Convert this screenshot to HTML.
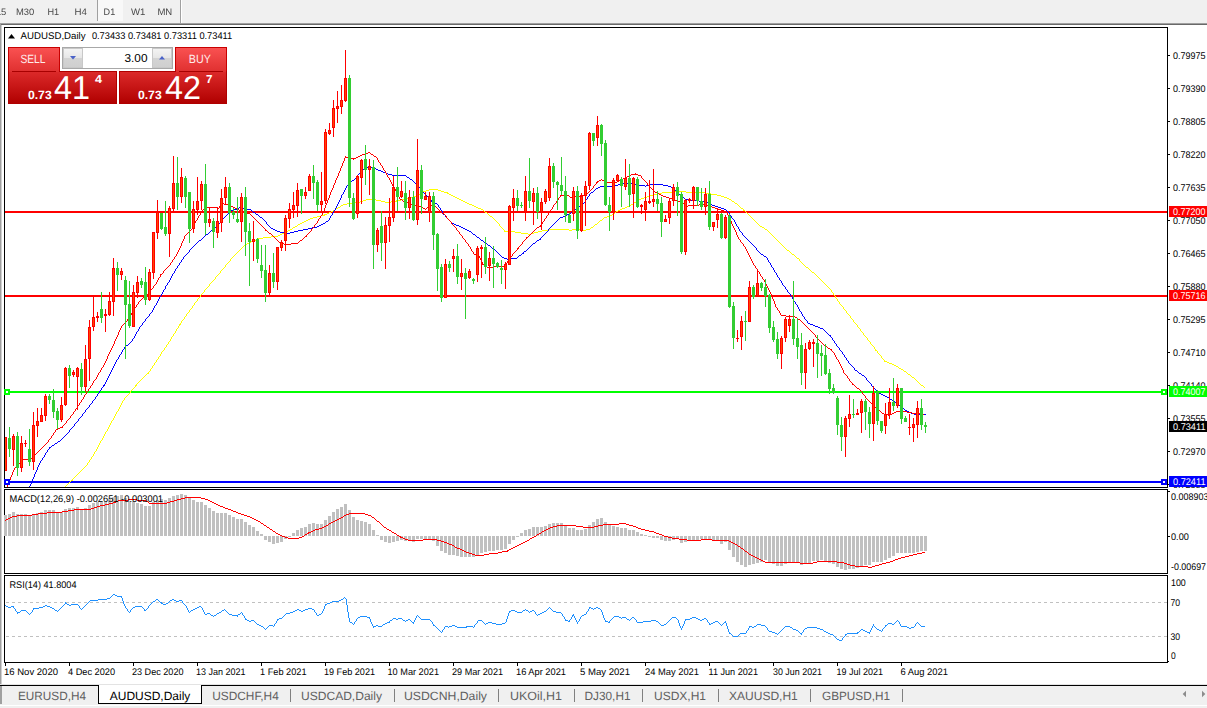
<!DOCTYPE html>
<html><head><meta charset="utf-8"><title>AUDUSD,Daily</title>
<style>
html,body{margin:0;padding:0;background:#fff;}
body{width:1207px;height:708px;overflow:hidden;position:relative;}
svg{position:absolute;left:0;top:0;display:block;}
text{font-family:"Liberation Sans",Arial,sans-serif;}
</style></head><body>
<svg width="1207" height="708" viewBox="0 0 1207 708" shape-rendering="crispEdges">
<defs><linearGradient id="gt" x1="0" y1="0" x2="0" y2="1"><stop offset="0" stop-color="#fa5252"/><stop offset="1" stop-color="#e03030"/></linearGradient><linearGradient id="gb" x1="0" y1="0" x2="0" y2="1"><stop offset="0" stop-color="#dc2a2a"/><stop offset="1" stop-color="#b00000"/></linearGradient><linearGradient id="gg" x1="0" y1="0" x2="0" y2="1"><stop offset="0" stop-color="#f4f4f4"/><stop offset="0.5" stop-color="#e6e6e6"/><stop offset="0.5" stop-color="#d4d4d4"/><stop offset="1" stop-color="#cfcfcf"/></linearGradient><filter id="gs" x="-10%" y="-50%" width="120%" height="200%"><feColorMatrix type="saturate" values="0"/></filter><clipPath id="cmain"><rect x="5" y="28" width="1162" height="459"/></clipPath></defs>
<rect x="0" y="0" width="1207" height="23" fill="#f0f0f0"/>
<rect x="0" y="23" width="1207" height="1" fill="#a0a0a0"/>
<rect x="0" y="24" width="1207" height="1" fill="#696969"/>
<rect x="0" y="23" width="1" height="661" fill="#a0a0a0"/>
<rect x="1" y="25" width="1" height="659" fill="#d0d0d0"/>
<rect x="97" y="0" width="1" height="21" fill="#a0a0a0"/>
<rect x="98" y="0" width="25" height="21" fill="#f8f8f8"/>
<rect x="180" y="0" width="1" height="23" fill="#a0a0a0"/>
<rect x="181" y="0" width="1" height="23" fill="#ffffff"/>
<rect x="5" y="211" width="1162" height="2" fill="#ff0000"/>
<rect x="5" y="295" width="1162" height="2" fill="#ff0000"/>
<rect x="5" y="391" width="1162" height="2" fill="#00ff00"/>
<rect x="5" y="481" width="1162" height="2" fill="#0000ff"/>
<g clip-path="url(#cmain)">
<path d="M65 486h1v2h-1zM66 485h1v1h-1zM67 484h1v1h-1zM68 483h1v1h-1zM69 482h1v1h-1zM70 481h1v1h-1zM71 480h1v1h-1zM72 479h1v2h-1zM73 478h1v1h-1zM74 477h1v1h-1zM75 476h1v1h-1zM76 475h1v1h-1zM77 474h1v1h-1zM78 473h1v1h-1zM79 472h1v1h-1zM80 471h1v1h-1zM81 470h1v1h-1zM82 469h1v1h-1zM83 468h1v1h-1zM84 467h1v1h-1zM85 466h1v1h-1zM86 465h1v1h-1zM87 463h1v2h-1zM88 462h1v1h-1zM89 460h1v2h-1zM90 459h1v1h-1zM91 457h1v2h-1zM92 456h1v1h-1zM93 454h1v2h-1zM94 452h1v2h-1zM95 451h1v1h-1zM96 449h1v2h-1zM97 447h1v2h-1zM98 445h1v2h-1zM99 443h1v2h-1zM100 441h1v2h-1zM101 440h1v1h-1zM102 438h1v2h-1zM103 436h1v2h-1zM104 434h1v2h-1zM105 432h1v2h-1zM106 431h1v1h-1zM107 429h1v2h-1zM108 427h1v2h-1zM109 425h1v2h-1zM110 423h1v2h-1zM111 421h1v2h-1zM112 420h1v1h-1zM113 418h1v2h-1zM114 416h1v2h-1zM115 414h1v2h-1zM116 412h1v2h-1zM117 411h1v1h-1zM118 409h1v2h-1zM119 407h1v2h-1zM120 405h1v2h-1zM121 403h1v2h-1zM122 401h1v2h-1zM123 400h1v1h-1zM124 398h1v2h-1zM125 397h1v1h-1zM126 396h1v1h-1zM127 395h1v1h-1zM128 394h1v1h-1zM129 393h1v1h-1zM130 391h1v2h-1zM131 390h1v1h-1zM132 389h1v1h-1zM133 388h1v1h-1zM134 387h1v1h-1zM135 385h1v2h-1zM136 384h1v2h-1zM137 383h1v1h-1zM138 382h1v1h-1zM139 381h1v1h-1zM140 380h1v1h-1zM141 379h1v1h-1zM142 378h1v1h-1zM143 377h1v1h-1zM144 376h1v1h-1zM145 375h1v1h-1zM146 374h1v1h-1zM147 373h1v1h-1zM148 372h1v2h-1zM149 371h1v1h-1zM150 369h1v2h-1zM151 368h1v1h-1zM152 366h1v2h-1zM153 365h1v1h-1zM154 363h1v2h-1zM155 362h1v1h-1zM156 360h1v2h-1zM157 359h1v1h-1zM158 357h1v2h-1zM159 356h1v1h-1zM160 354h1v2h-1zM161 352h1v2h-1zM162 351h1v1h-1zM163 350h1v1h-1zM164 348h1v2h-1zM165 347h1v1h-1zM166 345h1v2h-1zM167 344h1v1h-1zM168 342h1v2h-1zM169 341h1v1h-1zM170 339h1v2h-1zM171 337h1v2h-1zM172 336h1v1h-1zM173 334h1v2h-1zM174 333h1v1h-1zM175 331h1v2h-1zM176 329h1v2h-1zM177 328h1v1h-1zM178 326h1v2h-1zM179 324h1v2h-1zM180 323h1v2h-1zM181 321h1v2h-1zM182 320h1v1h-1zM183 319h1v1h-1zM184 317h1v2h-1zM185 316h1v1h-1zM186 314h1v2h-1zM187 313h1v1h-1zM188 312h1v1h-1zM189 310h1v2h-1zM190 309h1v1h-1zM191 308h1v1h-1zM192 306h1v2h-1zM193 305h1v1h-1zM194 303h1v2h-1zM195 302h1v1h-1zM196 301h1v1h-1zM197 299h1v2h-1zM198 298h1v1h-1zM199 297h1v1h-1zM200 295h1v2h-1zM201 294h1v1h-1zM202 293h1v1h-1zM203 292h1v1h-1zM204 290h1v2h-1zM205 289h1v1h-1zM206 288h1v1h-1zM207 287h1v1h-1zM208 286h1v1h-1zM209 284h1v2h-1zM210 283h1v1h-1zM211 282h1v1h-1zM212 281h1v1h-1zM213 280h1v1h-1zM214 279h1v1h-1zM215 277h1v2h-1zM216 276h1v1h-1zM217 275h1v1h-1zM218 274h1v1h-1zM219 273h1v1h-1zM220 271h1v2h-1zM221 270h1v1h-1zM222 269h1v1h-1zM223 268h1v1h-1zM224 267h1v1h-1zM225 265h1v2h-1zM226 264h1v1h-1zM227 263h1v1h-1zM228 262h1v1h-1zM229 261h1v1h-1zM230 259h1v2h-1zM231 258h1v1h-1zM232 257h1v1h-1zM233 256h1v1h-1zM234 255h1v1h-1zM235 254h1v1h-1zM236 253h1v1h-1zM237 252h1v1h-1zM238 251h1v1h-1zM239 250h1v1h-1zM240 249h1v1h-1zM241 248h1v1h-1zM242 247h1v1h-1zM243 246h1v1h-1zM244 245h2v1h-2zM246 244h1v1h-1zM247 243h2v1h-2zM249 242h2v1h-2zM251 241h2v1h-2zM253 240h3v1h-3zM256 239h2v1h-2zM258 238h5v1h-5zM263 237h8v1h-8zM271 236h7v1h-7zM278 235h2v1h-2zM280 234h2v1h-2zM282 233h2v1h-2zM284 232h2v1h-2zM286 231h2v1h-2zM288 230h2v1h-2zM290 229h2v1h-2zM292 228h1v1h-1zM293 227h2v1h-2zM295 226h2v1h-2zM297 225h1v1h-1zM298 224h2v1h-2zM300 223h2v1h-2zM302 222h2v1h-2zM304 221h2v1h-2zM306 220h2v1h-2zM308 219h2v1h-2zM310 218h3v1h-3zM313 217h4v1h-4zM317 216h4v1h-4zM321 215h3v1h-3zM324 214h1v2h-1zM325 214h2v1h-2zM327 213h2v1h-2zM329 212h2v1h-2zM331 211h2v1h-2zM333 210h2v1h-2zM335 209h1v1h-1zM336 208h2v1h-2zM338 207h2v1h-2zM340 206h1v1h-1zM341 205h2v1h-2zM343 204h4v1h-4zM347 203h8v1h-8zM355 202h5v1h-5zM360 201h3v1h-3zM363 200h3v1h-3zM366 199h10v1h-10zM376 200h5v1h-5zM381 201h4v1h-4zM385 202h6v1h-6zM391 201h5v1h-5zM396 200h1v2h-1zM397 200h4v1h-4zM401 199h5v1h-5zM406 198h4v1h-4zM410 197h3v1h-3zM413 196h3v1h-3zM416 195h2v1h-2zM418 194h1v2h-1zM419 194h1v1h-1zM420 193h2v1h-2zM422 192h1v1h-1zM423 191h1v2h-1zM424 191h2v1h-2zM426 190h3v1h-3zM429 189h9v1h-9zM438 190h3v1h-3zM441 191h3v1h-3zM444 192h3v1h-3zM447 192h1v2h-1zM448 193h1v1h-1zM449 194h2v1h-2zM451 195h2v1h-2zM453 196h2v1h-2zM455 197h2v1h-2zM457 198h2v1h-2zM459 199h2v1h-2zM461 200h2v1h-2zM463 201h2v1h-2zM465 202h2v1h-2zM467 203h2v1h-2zM469 204h3v1h-3zM472 205h2v1h-2zM474 206h2v1h-2zM476 207h2v1h-2zM478 208h3v1h-3zM481 209h2v1h-2zM483 210h1v1h-1zM484 211h1v1h-1zM485 212h2v1h-2zM487 213h1v1h-1zM488 214h1v1h-1zM489 215h1v1h-1zM490 216h2v1h-2zM492 217h1v1h-1zM493 218h1v1h-1zM494 219h1v1h-1zM495 220h1v1h-1zM496 221h1v1h-1zM497 222h1v1h-1zM498 223h1v1h-1zM499 224h1v2h-1zM500 226h1v1h-1zM501 227h1v1h-1zM502 228h1v1h-1zM503 229h1v1h-1zM504 230h1v2h-1zM505 231h10v1h-10zM515 232h6v1h-6zM521 233h7v1h-7zM528 234h3v1h-3zM531 233h3v1h-3zM534 232h4v1h-4zM538 231h4v1h-4zM542 230h6v1h-6zM548 229h21v1h-21zM569 230h3v1h-3zM572 229h8v1h-8zM580 230h6v1h-6zM586 229h4v1h-4zM590 228h1v1h-1zM591 227h2v1h-2zM593 226h1v1h-1zM594 225h1v1h-1zM595 224h2v1h-2zM597 223h1v1h-1zM598 222h1v1h-1zM599 221h1v1h-1zM600 220h2v1h-2zM602 219h1v1h-1zM603 218h1v1h-1zM604 217h3v1h-3zM607 216h3v1h-3zM610 215h2v1h-2zM612 214h1v1h-1zM613 213h2v1h-2zM615 212h1v1h-1zM616 211h2v1h-2zM618 210h2v1h-2zM620 209h2v1h-2zM622 208h3v1h-3zM625 207h2v1h-2zM627 206h2v1h-2zM629 205h2v1h-2zM631 204h2v1h-2zM633 203h1v1h-1zM634 202h2v1h-2zM636 201h2v1h-2zM638 200h1v1h-1zM639 199h2v1h-2zM641 198h3v1h-3zM644 197h3v1h-3zM647 196h3v1h-3zM650 195h4v1h-4zM654 194h4v1h-4zM658 193h4v1h-4zM662 192h10v1h-10zM672 191h14v1h-14zM686 192h19v1h-19zM705 193h6v1h-6zM711 194h6v1h-6zM717 195h4v1h-4zM721 196h3v1h-3zM724 197h3v1h-3zM727 198h2v1h-2zM729 199h2v1h-2zM731 200h1v1h-1zM732 201h2v1h-2zM734 202h1v1h-1zM735 203h2v1h-2zM737 204h1v1h-1zM738 205h1v1h-1zM739 206h1v1h-1zM740 207h1v1h-1zM741 208h2v1h-2zM743 209h1v2h-1zM744 210h1v1h-1zM745 211h1v1h-1zM746 212h1v1h-1zM747 213h1v1h-1zM748 214h1v1h-1zM749 215h1v1h-1zM750 216h1v1h-1zM751 217h1v1h-1zM752 218h1v1h-1zM753 219h1v1h-1zM754 220h1v1h-1zM755 221h1v1h-1zM756 222h1v1h-1zM757 223h1v1h-1zM758 224h1v1h-1zM759 225h1v1h-1zM760 226h2v1h-2zM762 227h2v1h-2zM764 228h1v1h-1zM765 229h2v1h-2zM767 230h1v1h-1zM768 231h1v1h-1zM769 232h1v1h-1zM770 233h1v1h-1zM771 234h1v1h-1zM772 235h1v1h-1zM773 236h1v1h-1zM774 237h1v1h-1zM775 238h1v1h-1zM776 239h1v1h-1zM777 240h1v1h-1zM778 241h1v1h-1zM779 242h1v1h-1zM780 243h1v1h-1zM781 244h1v1h-1zM782 245h1v1h-1zM783 246h1v1h-1zM784 247h1v1h-1zM785 248h1v1h-1zM786 249h1v1h-1zM787 250h2v1h-2zM789 251h1v1h-1zM790 252h1v1h-1zM791 253h1v1h-1zM792 254h2v1h-2zM794 255h1v1h-1zM795 256h1v1h-1zM796 257h1v1h-1zM797 258h2v1h-2zM799 259h1v2h-1zM800 261h1v1h-1zM801 262h1v1h-1zM802 263h1v1h-1zM803 264h1v1h-1zM804 265h1v1h-1zM805 266h1v1h-1zM806 267h2v1h-2zM808 268h1v1h-1zM809 269h1v1h-1zM810 270h1v1h-1zM811 271h1v1h-1zM812 272h2v1h-2zM814 273h1v1h-1zM815 274h1v1h-1zM816 275h1v1h-1zM817 276h1v1h-1zM818 277h1v1h-1zM819 278h1v1h-1zM820 279h1v1h-1zM821 280h1v1h-1zM822 281h1v1h-1zM823 282h1v1h-1zM824 283h1v1h-1zM825 284h1v1h-1zM826 285h1v1h-1zM827 286h1v1h-1zM828 287h1v1h-1zM829 288h1v1h-1zM830 289h1v1h-1zM831 290h1v2h-1zM832 292h1v1h-1zM833 293h1v2h-1zM834 295h1v1h-1zM835 296h1v2h-1zM836 298h1v1h-1zM837 299h1v2h-1zM838 301h1v1h-1zM839 302h1v2h-1zM840 304h1v1h-1zM841 305h1v1h-1zM842 306h1v1h-1zM843 307h1v2h-1zM844 309h1v1h-1zM845 310h1v1h-1zM846 311h1v2h-1zM847 313h1v1h-1zM848 314h1v1h-1zM849 315h1v1h-1zM850 316h1v2h-1zM851 318h1v1h-1zM852 319h1v1h-1zM853 320h1v2h-1zM854 322h1v1h-1zM855 323h1v1h-1zM856 324h1v1h-1zM857 325h1v2h-1zM858 327h1v1h-1zM859 328h1v1h-1zM860 329h1v2h-1zM861 331h1v1h-1zM862 332h1v1h-1zM863 333h1v2h-1zM864 335h1v1h-1zM865 336h1v1h-1zM866 337h1v1h-1zM867 338h1v2h-1zM868 340h1v1h-1zM869 341h1v1h-1zM870 342h1v2h-1zM871 344h1v1h-1zM872 345h1v1h-1zM873 346h1v1h-1zM874 347h1v2h-1zM875 349h1v2h-1zM876 350h1v1h-1zM877 351h1v2h-1zM878 353h1v1h-1zM879 354h1v1h-1zM880 355h1v1h-1zM881 356h1v2h-1zM882 358h1v1h-1zM883 359h1v1h-1zM884 360h1v2h-1zM885 361h2v1h-2zM887 362h2v1h-2zM889 363h3v1h-3zM892 364h2v1h-2zM894 365h2v1h-2zM896 366h2v1h-2zM898 367h1v1h-1zM899 368h2v1h-2zM901 369h2v1h-2zM903 370h1v1h-1zM904 371h2v1h-2zM906 372h1v1h-1zM907 373h1v1h-1zM908 374h2v1h-2zM910 375h1v1h-1zM911 376h1v1h-1zM912 377h2v1h-2zM914 378h1v1h-1zM915 379h1v1h-1zM916 380h1v1h-1zM917 381h1v1h-1zM918 382h1v1h-1zM919 383h1v1h-1zM920 384h1v1h-1zM921 385h2v1h-2zM923 386h1v1h-1zM924 387h1v1h-1z" fill="#ffff00"/>
<path d="M29 486h1v2h-1zM30 484h1v2h-1zM31 482h1v2h-1zM32 479h1v3h-1zM33 477h1v2h-1zM34 474h1v3h-1zM35 472h1v2h-1zM36 470h1v2h-1zM37 467h1v3h-1zM38 465h1v2h-1zM39 463h1v2h-1zM40 461h1v2h-1zM41 460h1v1h-1zM42 458h1v2h-1zM43 457h1v1h-1zM44 455h1v2h-1zM45 453h1v2h-1zM46 452h1v1h-1zM47 450h1v2h-1zM48 449h1v1h-1zM49 447h1v2h-1zM50 447h1v1h-1zM51 446h1v1h-1zM52 445h2v1h-2zM54 444h1v1h-1zM55 443h2v1h-2zM57 442h1v1h-1zM58 441h2v1h-2zM60 440h1v1h-1zM61 439h1v1h-1zM62 438h1v1h-1zM63 437h1v1h-1zM64 436h1v1h-1zM65 435h1v1h-1zM66 434h1v1h-1zM67 433h1v1h-1zM68 432h1v1h-1zM69 430h1v2h-1zM70 429h1v1h-1zM71 428h1v1h-1zM72 427h1v1h-1zM73 426h1v1h-1zM74 424h1v2h-1zM75 423h1v1h-1zM76 422h1v1h-1zM77 421h1v1h-1zM78 419h1v2h-1zM79 418h1v1h-1zM80 417h1v1h-1zM81 416h1v1h-1zM82 414h1v2h-1zM83 413h1v1h-1zM84 412h1v1h-1zM85 410h1v2h-1zM86 409h1v1h-1zM87 408h1v1h-1zM88 407h1v1h-1zM89 405h1v2h-1zM90 404h1v1h-1zM91 403h1v1h-1zM92 401h1v2h-1zM93 400h1v1h-1zM94 399h1v1h-1zM95 397h1v2h-1zM96 396h1v1h-1zM97 394h1v2h-1zM98 393h1v1h-1zM99 391h1v2h-1zM100 390h1v1h-1zM101 388h1v2h-1zM102 387h1v1h-1zM103 385h1v2h-1zM104 384h1v2h-1zM105 382h1v2h-1zM106 380h1v2h-1zM107 378h1v2h-1zM108 376h1v2h-1zM109 374h1v2h-1zM110 372h1v2h-1zM111 370h1v2h-1zM112 368h1v2h-1zM113 366h1v2h-1zM114 364h1v2h-1zM115 362h1v2h-1zM116 360h1v2h-1zM117 359h1v1h-1zM118 357h1v2h-1zM119 355h1v2h-1zM120 354h1v1h-1zM121 352h1v2h-1zM122 350h1v2h-1zM123 349h1v1h-1zM124 347h1v2h-1zM125 346h1v1h-1zM126 345h2v1h-2zM128 344h1v1h-1zM129 343h1v1h-1zM130 342h1v1h-1zM131 341h1v1h-1zM132 339h1v2h-1zM133 338h1v1h-1zM134 336h1v2h-1zM135 334h1v2h-1zM136 332h1v2h-1zM137 331h1v1h-1zM138 329h1v2h-1zM139 327h1v2h-1zM140 326h1v1h-1zM141 325h1v1h-1zM142 323h1v2h-1zM143 322h1v1h-1zM144 321h1v1h-1zM145 319h1v2h-1zM146 318h1v1h-1zM147 317h1v1h-1zM148 316h1v1h-1zM149 314h1v2h-1zM150 313h1v1h-1zM151 312h1v1h-1zM152 310h1v2h-1zM153 308h1v2h-1zM154 306h1v2h-1zM155 305h1v1h-1zM156 303h1v2h-1zM157 301h1v2h-1zM158 299h1v2h-1zM159 297h1v2h-1zM160 296h1v1h-1zM161 294h1v2h-1zM162 292h1v2h-1zM163 290h1v2h-1zM164 289h1v1h-1zM165 286h1v3h-1zM166 285h1v1h-1zM167 283h1v2h-1zM168 282h1v1h-1zM169 280h1v2h-1zM170 278h1v2h-1zM171 276h1v2h-1zM172 274h1v2h-1zM173 273h1v1h-1zM174 271h1v2h-1zM175 269h1v2h-1zM176 268h1v1h-1zM177 266h1v2h-1zM178 265h1v1h-1zM179 263h1v2h-1zM180 262h1v1h-1zM181 260h1v2h-1zM182 259h1v1h-1zM183 257h1v2h-1zM184 256h1v1h-1zM185 255h1v1h-1zM186 254h1v1h-1zM187 253h1v1h-1zM188 252h1v1h-1zM189 250h1v2h-1zM190 249h1v1h-1zM191 248h1v1h-1zM192 247h1v1h-1zM193 246h1v1h-1zM194 245h1v1h-1zM195 244h1v1h-1zM196 243h1v1h-1zM197 242h1v1h-1zM198 241h1v1h-1zM199 240h2v1h-2zM201 239h1v1h-1zM202 238h1v1h-1zM203 237h1v1h-1zM204 236h1v1h-1zM205 235h1v1h-1zM206 234h2v1h-2zM208 233h1v1h-1zM209 232h1v1h-1zM210 231h1v1h-1zM211 230h2v1h-2zM213 229h1v1h-1zM214 228h1v1h-1zM215 227h1v1h-1zM216 226h1v1h-1zM217 225h1v1h-1zM218 224h1v1h-1zM219 223h1v1h-1zM220 222h1v1h-1zM221 220h1v2h-1zM222 219h1v1h-1zM223 218h1v1h-1zM224 217h1v1h-1zM225 216h1v1h-1zM226 215h1v1h-1zM227 214h1v1h-1zM228 213h1v1h-1zM229 212h1v1h-1zM230 211h1v1h-1zM231 210h3v1h-3zM234 209h3v1h-3zM237 208h2v1h-2zM239 207h2v1h-2zM241 208h6v1h-6zM247 209h4v1h-4zM251 210h1v1h-1zM252 211h1v1h-1zM253 212h2v1h-2zM255 213h1v1h-1zM256 214h2v1h-2zM258 215h1v1h-1zM259 216h1v1h-1zM260 217h2v1h-2zM262 218h1v1h-1zM263 219h1v1h-1zM264 220h1v1h-1zM265 221h1v1h-1zM266 222h1v2h-1zM267 224h1v1h-1zM268 225h1v1h-1zM269 226h1v1h-1zM270 227h1v1h-1zM271 228h2v1h-2zM273 229h2v1h-2zM275 230h2v1h-2zM277 231h3v1h-3zM280 232h5v1h-5zM285 233h5v1h-5zM290 232h4v1h-4zM294 231h4v1h-4zM298 230h5v1h-5zM303 229h5v1h-5zM308 228h4v1h-4zM312 227h5v1h-5zM317 226h2v1h-2zM319 225h2v1h-2zM321 224h2v1h-2zM323 223h2v1h-2zM325 222h1v1h-1zM326 221h2v1h-2zM328 220h1v1h-1zM329 218h1v2h-1zM330 216h1v2h-1zM331 215h1v1h-1zM332 213h1v2h-1zM333 211h1v2h-1zM334 210h1v1h-1zM335 208h1v2h-1zM336 206h1v2h-1zM337 204h1v2h-1zM338 202h1v2h-1zM339 200h1v2h-1zM340 198h1v2h-1zM341 195h1v3h-1zM342 194h1v1h-1zM343 192h1v2h-1zM344 190h1v2h-1zM345 188h1v2h-1zM346 186h1v2h-1zM347 185h1v1h-1zM348 184h1v1h-1zM349 183h1v1h-1zM350 182h1v1h-1zM351 181h1v1h-1zM352 180h2v1h-2zM354 179h1v1h-1zM355 178h1v1h-1zM356 177h1v1h-1zM357 175h1v2h-1zM358 174h1v1h-1zM359 173h1v1h-1zM360 172h1v1h-1zM361 171h1v1h-1zM362 170h1v1h-1zM363 169h2v1h-2zM365 168h1v1h-1zM366 167h2v1h-2zM368 166h3v1h-3zM371 167h2v1h-2zM373 168h3v1h-3zM376 169h2v1h-2zM378 170h3v1h-3zM381 171h2v1h-2zM383 172h3v1h-3zM386 173h2v1h-2zM388 174h4v1h-4zM392 175h14v1h-14zM406 176h1v1h-1zM407 177h2v1h-2zM409 178h1v1h-1zM410 179h2v1h-2zM412 180h1v1h-1zM413 181h1v1h-1zM414 182h1v1h-1zM415 183h1v1h-1zM416 184h1v1h-1zM417 185h1v1h-1zM418 186h1v1h-1zM419 187h1v1h-1zM420 188h1v2h-1zM421 190h1v1h-1zM422 191h1v1h-1zM423 192h1v1h-1zM424 193h1v1h-1zM425 194h1v1h-1zM426 195h1v1h-1zM427 196h1v1h-1zM428 197h1v1h-1zM429 198h1v1h-1zM430 199h1v1h-1zM431 200h1v2h-1zM432 201h2v1h-2zM434 202h1v1h-1zM435 203h2v1h-2zM437 204h1v1h-1zM438 205h1v2h-1zM439 207h1v1h-1zM440 208h1v2h-1zM441 210h1v1h-1zM442 211h1v2h-1zM443 213h1v2h-1zM444 214h1v1h-1zM445 215h1v2h-1zM446 217h1v1h-1zM447 218h1v1h-1zM448 219h1v1h-1zM449 220h1v1h-1zM450 221h1v1h-1zM451 222h1v1h-1zM452 223h2v1h-2zM454 224h2v1h-2zM456 225h3v1h-3zM459 226h2v1h-2zM461 227h2v1h-2zM463 228h2v1h-2zM465 229h2v1h-2zM467 230h2v1h-2zM469 231h2v1h-2zM471 232h1v1h-1zM472 233h1v1h-1zM473 234h2v1h-2zM475 235h1v1h-1zM476 236h1v1h-1zM477 237h2v1h-2zM479 238h1v1h-1zM480 239h1v1h-1zM481 240h2v1h-2zM483 241h1v1h-1zM484 242h2v1h-2zM486 243h1v1h-1zM487 244h1v1h-1zM488 245h2v1h-2zM490 246h1v1h-1zM491 247h1v1h-1zM492 248h1v1h-1zM493 249h2v1h-2zM495 250h1v1h-1zM496 251h1v1h-1zM497 252h1v1h-1zM498 253h1v1h-1zM499 254h1v1h-1zM500 255h1v1h-1zM501 256h1v1h-1zM502 257h2v1h-2zM504 258h3v1h-3zM507 259h4v1h-4zM511 258h6v1h-6zM517 257h1v1h-1zM518 256h1v1h-1zM519 255h2v1h-2zM521 254h1v1h-1zM522 253h1v1h-1zM523 252h1v2h-1zM524 251h2v1h-2zM526 250h1v1h-1zM527 249h1v1h-1zM528 248h1v1h-1zM529 247h1v1h-1zM530 246h1v1h-1zM531 245h1v1h-1zM532 244h1v1h-1zM533 243h2v1h-2zM535 242h1v1h-1zM536 241h1v1h-1zM537 240h2v1h-2zM539 239h1v1h-1zM540 238h1v2h-1zM541 237h1v1h-1zM542 236h1v1h-1zM543 235h1v1h-1zM544 234h1v1h-1zM545 233h1v1h-1zM546 232h1v1h-1zM547 231h1v1h-1zM548 229h1v2h-1zM549 228h1v1h-1zM550 227h1v1h-1zM551 226h1v1h-1zM552 225h1v1h-1zM553 224h1v1h-1zM554 223h1v1h-1zM555 222h1v1h-1zM556 221h1v1h-1zM557 220h1v1h-1zM558 219h1v1h-1zM559 218h1v1h-1zM560 217h3v1h-3zM563 216h2v1h-2zM565 215h2v1h-2zM567 214h2v1h-2zM569 213h1v2h-1zM570 213h1v1h-1zM571 212h1v1h-1zM572 211h2v1h-2zM574 210h1v1h-1zM575 209h2v1h-2zM577 208h1v1h-1zM578 207h1v1h-1zM579 206h1v1h-1zM580 205h1v1h-1zM581 204h2v1h-2zM583 203h1v1h-1zM584 202h1v1h-1zM585 200h1v2h-1zM586 199h1v1h-1zM587 197h1v2h-1zM588 196h1v1h-1zM589 194h1v2h-1zM590 193h1v1h-1zM591 192h2v1h-2zM593 191h1v1h-1zM594 190h1v1h-1zM595 189h1v1h-1zM596 188h2v1h-2zM598 187h2v1h-2zM600 186h13v1h-13zM613 185h5v1h-5zM618 184h5v1h-5zM623 183h5v1h-5zM628 182h1v1h-1zM629 183h5v1h-5zM634 184h5v1h-5zM639 185h6v1h-6zM645 186h1v1h-1zM646 185h4v1h-4zM650 184h13v1h-13zM663 185h5v1h-5zM668 186h3v1h-3zM671 187h1v1h-1zM672 188h1v1h-1zM673 189h2v1h-2zM675 190h1v1h-1zM676 191h1v1h-1zM677 192h1v1h-1zM678 193h1v1h-1zM679 194h1v1h-1zM680 195h1v1h-1zM681 196h2v1h-2zM683 197h1v1h-1zM684 198h1v1h-1zM685 199h4v1h-4zM689 200h10v1h-10zM699 201h7v1h-7zM706 201h1v2h-1zM707 202h1v1h-1zM708 203h2v1h-2zM710 204h2v1h-2zM712 205h3v1h-3zM715 206h3v1h-3zM718 207h3v1h-3zM721 208h3v1h-3zM724 209h2v1h-2zM726 210h1v1h-1zM727 211h1v1h-1zM728 212h1v1h-1zM729 213h1v2h-1zM730 215h1v1h-1zM731 216h1v2h-1zM732 218h1v1h-1zM733 219h1v1h-1zM734 220h1v2h-1zM735 222h1v2h-1zM736 224h1v2h-1zM737 226h1v1h-1zM738 227h1v2h-1zM739 229h1v2h-1zM740 231h1v1h-1zM741 232h1v1h-1zM742 233h1v2h-1zM743 235h1v1h-1zM744 236h1v1h-1zM745 237h1v1h-1zM746 238h1v1h-1zM747 239h1v1h-1zM748 240h1v1h-1zM749 241h1v1h-1zM750 242h1v1h-1zM751 243h1v1h-1zM752 244h1v1h-1zM753 245h1v1h-1zM754 246h1v1h-1zM755 247h1v1h-1zM756 248h1v2h-1zM757 250h1v1h-1zM758 251h1v1h-1zM759 252h1v1h-1zM760 253h1v1h-1zM761 254h2v1h-2zM763 255h1v1h-1zM764 256h2v1h-2zM766 257h1v1h-1zM767 258h1v2h-1zM768 260h1v2h-1zM769 262h1v1h-1zM770 263h1v2h-1zM771 265h1v2h-1zM772 267h1v1h-1zM773 268h1v2h-1zM774 270h1v2h-1zM775 272h1v1h-1zM776 273h1v2h-1zM777 275h1v2h-1zM778 277h1v1h-1zM779 278h1v2h-1zM780 280h1v1h-1zM781 281h1v2h-1zM782 283h1v2h-1zM783 285h1v1h-1zM784 286h1v1h-1zM785 287h1v2h-1zM786 289h1v1h-1zM787 290h1v2h-1zM788 292h1v1h-1zM789 293h1v1h-1zM790 294h1v2h-1zM791 296h1v1h-1zM792 297h1v2h-1zM793 299h1v2h-1zM794 301h1v1h-1zM795 302h1v2h-1zM796 304h1v1h-1zM797 305h1v2h-1zM798 307h1v2h-1zM799 309h1v2h-1zM800 311h1v1h-1zM801 312h1v2h-1zM802 314h1v2h-1zM803 316h1v1h-1zM804 317h1v2h-1zM805 319h1v1h-1zM806 320h1v1h-1zM807 321h1v2h-1zM808 323h2v1h-2zM810 324h3v1h-3zM813 325h2v1h-2zM815 326h3v1h-3zM818 327h2v1h-2zM820 328h3v1h-3zM823 329h1v1h-1zM824 330h1v1h-1zM825 331h1v1h-1zM826 332h1v1h-1zM827 333h1v1h-1zM828 334h1v1h-1zM829 335h1v1h-1zM830 335h1v2h-1zM831 337h1v1h-1zM832 338h1v2h-1zM833 340h1v1h-1zM834 341h1v2h-1zM835 343h1v1h-1zM836 344h1v2h-1zM837 346h1v1h-1zM838 347h1v1h-1zM839 348h1v2h-1zM840 350h1v1h-1zM841 351h1v1h-1zM842 352h1v2h-1zM843 354h1v1h-1zM844 355h1v2h-1zM845 357h1v1h-1zM846 358h1v2h-1zM847 360h1v1h-1zM848 361h1v2h-1zM849 363h1v1h-1zM850 364h1v1h-1zM851 365h1v1h-1zM852 366h1v1h-1zM853 367h1v1h-1zM854 368h1v2h-1zM855 370h2v1h-2zM857 371h1v1h-1zM858 372h1v1h-1zM859 373h2v1h-2zM861 374h1v1h-1zM862 375h2v1h-2zM864 376h1v1h-1zM865 377h1v1h-1zM866 378h1v2h-1zM867 380h1v1h-1zM868 381h1v1h-1zM869 382h1v1h-1zM870 383h1v1h-1zM871 384h1v2h-1zM872 386h1v1h-1zM873 387h1v1h-1zM874 388h1v1h-1zM875 389h1v1h-1zM876 390h1v1h-1zM877 391h1v1h-1zM878 392h1v1h-1zM879 393h2v1h-2zM881 394h2v1h-2zM883 395h2v1h-2zM885 396h2v1h-2zM887 397h2v1h-2zM889 398h1v1h-1zM890 399h2v1h-2zM892 400h1v1h-1zM893 401h2v1h-2zM895 402h1v1h-1zM896 403h1v1h-1zM897 404h1v1h-1zM898 405h2v1h-2zM900 406h1v1h-1zM901 407h1v1h-1zM902 408h2v1h-2zM904 409h1v1h-1zM905 410h2v1h-2zM907 411h1v1h-1zM908 411h1v2h-1zM909 412h2v1h-2zM911 413h3v1h-3zM914 413h1v2h-1zM915 414h11v1h-11z" fill="#0000ff"/>
<path d="M7 485h1v3h-1zM8 482h1v3h-1zM9 480h1v2h-1zM10 477h1v3h-1zM11 475h1v2h-1zM12 472h1v3h-1zM13 470h1v2h-1zM14 468h1v2h-1zM15 467h1v1h-1zM16 466h1v1h-1zM17 465h1v1h-1zM18 464h1v1h-1zM19 463h1v1h-1zM20 462h1v1h-1zM21 460h1v2h-1zM22 459h9v1h-9zM31 458h1v1h-1zM32 457h1v1h-1zM33 456h1v1h-1zM34 455h1v1h-1zM35 454h1v1h-1zM36 453h1v1h-1zM37 452h1v1h-1zM38 451h1v1h-1zM39 450h1v1h-1zM40 449h1v1h-1zM41 448h1v1h-1zM42 447h1v1h-1zM43 446h1v1h-1zM44 445h1v1h-1zM45 444h1v1h-1zM46 443h1v1h-1zM47 442h1v1h-1zM48 440h1v2h-1zM49 439h1v1h-1zM50 438h1v1h-1zM51 436h1v2h-1zM52 435h1v1h-1zM53 433h1v2h-1zM54 432h1v1h-1zM55 430h1v2h-1zM56 429h2v1h-2zM58 428h2v1h-2zM60 427h2v1h-2zM62 426h1v2h-1zM63 425h1v1h-1zM64 424h1v1h-1zM65 423h1v1h-1zM66 421h1v2h-1zM67 420h1v1h-1zM68 419h1v1h-1zM69 418h1v1h-1zM70 416h1v2h-1zM71 415h1v1h-1zM72 414h1v1h-1zM73 412h1v2h-1zM74 411h1v1h-1zM75 409h1v2h-1zM76 408h1v1h-1zM77 406h1v2h-1zM78 405h1v1h-1zM79 403h1v2h-1zM80 402h1v1h-1zM81 400h1v2h-1zM82 399h1v1h-1zM83 397h1v2h-1zM84 395h1v2h-1zM85 394h1v1h-1zM86 392h1v2h-1zM87 391h1v1h-1zM88 389h1v2h-1zM89 388h1v1h-1zM90 386h1v2h-1zM91 385h1v1h-1zM92 383h1v2h-1zM93 381h1v2h-1zM94 380h1v1h-1zM95 379h1v1h-1zM96 377h1v2h-1zM97 375h1v2h-1zM98 373h1v2h-1zM99 372h1v1h-1zM100 370h1v2h-1zM101 368h1v2h-1zM102 367h1v1h-1zM103 365h1v2h-1zM104 363h1v2h-1zM105 361h1v2h-1zM106 359h1v2h-1zM107 356h1v3h-1zM108 354h1v2h-1zM109 352h1v2h-1zM110 350h1v2h-1zM111 348h1v2h-1zM112 346h1v2h-1zM113 344h1v2h-1zM114 341h1v3h-1zM115 339h1v2h-1zM116 337h1v2h-1zM117 335h1v2h-1zM118 332h1v3h-1zM119 330h1v2h-1zM120 328h1v2h-1zM121 326h1v2h-1zM122 325h1v1h-1zM123 324h1v1h-1zM124 323h1v1h-1zM125 322h1v1h-1zM126 321h1v1h-1zM127 319h1v2h-1zM128 318h1v1h-1zM129 317h1v1h-1zM130 315h1v2h-1zM131 313h1v2h-1zM132 312h1v1h-1zM133 310h1v2h-1zM134 308h1v2h-1zM135 307h1v1h-1zM136 305h1v2h-1zM137 304h1v1h-1zM138 302h1v2h-1zM139 301h1v1h-1zM140 300h1v1h-1zM141 299h1v1h-1zM142 298h1v1h-1zM143 297h1v1h-1zM144 296h2v1h-2zM146 295h1v1h-1zM147 294h1v1h-1zM148 293h1v2h-1zM149 292h1v1h-1zM150 290h1v2h-1zM151 289h1v1h-1zM152 288h1v1h-1zM153 286h1v2h-1zM154 285h1v1h-1zM155 284h1v1h-1zM156 282h1v2h-1zM157 280h1v2h-1zM158 278h1v2h-1zM159 277h1v1h-1zM160 274h1v3h-1zM161 274h1v1h-1zM162 273h1v1h-1zM163 271h1v2h-1zM164 270h1v1h-1zM165 269h1v1h-1zM166 268h1v1h-1zM167 267h1v1h-1zM168 266h1v1h-1zM169 265h1v1h-1zM170 263h1v2h-1zM171 262h1v1h-1zM172 260h1v2h-1zM173 259h1v1h-1zM174 257h1v2h-1zM175 256h1v1h-1zM176 254h1v2h-1zM177 252h1v2h-1zM178 250h1v2h-1zM179 248h1v2h-1zM180 246h1v2h-1zM181 243h1v3h-1zM182 241h1v2h-1zM183 239h1v2h-1zM184 236h1v3h-1zM185 235h1v1h-1zM186 234h1v1h-1zM187 233h1v1h-1zM188 232h1v1h-1zM189 231h1v1h-1zM190 230h1v1h-1zM191 229h1v1h-1zM192 227h1v2h-1zM193 225h1v2h-1zM194 223h1v2h-1zM195 221h1v2h-1zM196 220h1v1h-1zM197 218h1v2h-1zM198 216h1v2h-1zM199 215h1v1h-1zM200 213h1v2h-1zM201 212h1v1h-1zM202 210h1v2h-1zM203 209h2v1h-2zM205 208h2v1h-2zM207 207h11v1h-11zM218 208h1v1h-1zM219 206h1v2h-1zM220 205h1v1h-1zM221 204h1v1h-1zM222 203h2v1h-2zM224 204h4v1h-4zM228 205h3v1h-3zM231 206h2v1h-2zM233 207h2v1h-2zM235 208h2v1h-2zM237 209h2v1h-2zM239 210h2v1h-2zM241 211h3v1h-3zM244 212h3v1h-3zM247 213h3v1h-3zM250 214h1v1h-1zM251 215h1v1h-1zM252 216h1v1h-1zM253 217h1v1h-1zM254 218h1v1h-1zM255 219h1v1h-1zM256 220h1v1h-1zM257 221h1v1h-1zM258 222h1v1h-1zM259 223h1v1h-1zM260 224h1v1h-1zM261 225h1v1h-1zM262 226h1v1h-1zM263 227h1v1h-1zM264 228h1v1h-1zM265 229h1v2h-1zM266 230h1v1h-1zM267 231h1v1h-1zM268 232h1v1h-1zM269 233h2v1h-2zM271 234h1v1h-1zM272 235h1v1h-1zM273 236h1v1h-1zM274 237h1v1h-1zM275 238h1v1h-1zM276 239h1v1h-1zM277 240h1v1h-1zM278 241h1v1h-1zM279 242h3v1h-3zM282 243h2v1h-2zM284 244h7v1h-7zM291 243h7v1h-7zM298 242h1v1h-1zM299 241h1v1h-1zM300 240h2v1h-2zM302 239h1v1h-1zM303 238h1v1h-1zM304 237h1v1h-1zM305 236h1v1h-1zM306 235h1v2h-1zM307 234h1v1h-1zM308 233h1v1h-1zM309 232h1v1h-1zM310 231h1v1h-1zM311 229h1v2h-1zM312 228h1v1h-1zM313 227h1v1h-1zM314 225h1v2h-1zM315 224h1v1h-1zM316 223h1v1h-1zM317 221h1v2h-1zM318 219h1v2h-1zM319 218h1v1h-1zM320 216h1v2h-1zM321 215h1v1h-1zM322 213h1v2h-1zM323 211h1v2h-1zM324 208h1v3h-1zM325 205h1v3h-1zM326 203h1v2h-1zM327 200h1v3h-1zM328 198h1v2h-1zM329 195h1v3h-1zM330 192h1v3h-1zM331 190h1v2h-1zM332 188h1v2h-1zM333 185h1v3h-1zM334 183h1v2h-1zM335 180h1v3h-1zM336 178h1v2h-1zM337 176h1v2h-1zM338 173h1v3h-1zM339 171h1v2h-1zM340 168h1v3h-1zM341 166h1v2h-1zM342 163h1v3h-1zM343 161h1v2h-1zM344 158h1v3h-1zM345 156h1v2h-1zM346 157h4v1h-4zM350 158h3v1h-3zM353 158h1v2h-1zM354 158h2v1h-2zM356 157h2v1h-2zM358 156h2v1h-2zM360 155h2v1h-2zM362 154h3v1h-3zM365 153h3v1h-3zM368 152h2v1h-2zM370 153h1v1h-1zM371 154h2v1h-2zM373 155h1v1h-1zM374 156h2v1h-2zM376 157h1v1h-1zM377 158h1v2h-1zM378 160h1v2h-1zM379 162h1v1h-1zM380 163h1v2h-1zM381 165h1v1h-1zM382 166h1v2h-1zM383 168h1v2h-1zM384 170h1v1h-1zM385 171h1v2h-1zM386 173h1v2h-1zM387 175h1v2h-1zM388 177h1v1h-1zM389 178h1v2h-1zM390 180h1v2h-1zM391 182h1v2h-1zM392 184h1v2h-1zM393 186h1v1h-1zM394 187h1v2h-1zM395 189h1v2h-1zM396 191h1v2h-1zM397 193h1v2h-1zM398 195h1v2h-1zM399 197h1v2h-1zM400 199h2v1h-2zM402 200h1v1h-1zM403 201h2v1h-2zM405 202h3v1h-3zM408 203h3v1h-3zM411 204h3v1h-3zM414 205h4v1h-4zM418 206h4v1h-4zM422 207h1v1h-1zM423 208h2v1h-2zM425 209h1v1h-1zM426 208h1v1h-1zM427 207h1v1h-1zM428 206h1v1h-1zM429 205h6v1h-6zM435 206h1v1h-1zM436 207h1v1h-1zM437 208h1v1h-1zM438 209h1v1h-1zM439 210h1v1h-1zM440 211h1v1h-1zM441 212h1v1h-1zM442 213h2v1h-2zM444 214h1v1h-1zM445 215h1v1h-1zM446 216h1v2h-1zM447 218h1v1h-1zM448 219h1v1h-1zM449 220h1v1h-1zM450 221h1v1h-1zM451 222h1v2h-1zM452 224h1v1h-1zM453 225h1v1h-1zM454 226h1v1h-1zM455 227h1v1h-1zM456 228h1v2h-1zM457 230h1v1h-1zM458 231h1v1h-1zM459 232h1v2h-1zM460 234h1v1h-1zM461 235h1v1h-1zM462 236h1v2h-1zM463 238h1v1h-1zM464 239h1v1h-1zM465 240h1v2h-1zM466 242h1v1h-1zM467 243h1v1h-1zM468 244h1v2h-1zM469 246h1v1h-1zM470 247h1v2h-1zM471 249h1v2h-1zM472 251h1v1h-1zM473 252h1v2h-1zM474 254h2v1h-2zM476 255h3v1h-3zM479 256h1v2h-1zM480 258h1v2h-1zM481 260h1v2h-1zM482 262h1v3h-1zM483 264h1v1h-1zM484 265h2v1h-2zM486 266h1v1h-1zM487 267h6v1h-6zM493 266h12v1h-12zM505 265h1v1h-1zM506 263h1v2h-1zM507 261h1v2h-1zM508 260h1v1h-1zM509 258h1v2h-1zM510 257h1v1h-1zM511 256h1v1h-1zM512 254h1v2h-1zM513 253h1v1h-1zM514 252h1v1h-1zM515 251h1v1h-1zM516 250h1v1h-1zM517 248h1v2h-1zM518 247h1v2h-1zM519 246h1v1h-1zM520 245h1v1h-1zM521 244h1v1h-1zM522 242h1v2h-1zM523 241h1v1h-1zM524 240h1v1h-1zM525 239h1v1h-1zM526 237h1v2h-1zM527 237h1v1h-1zM528 236h1v1h-1zM529 235h1v1h-1zM530 234h1v1h-1zM531 233h1v1h-1zM532 232h1v1h-1zM533 231h1v1h-1zM534 230h1v1h-1zM535 229h1v1h-1zM536 228h1v1h-1zM537 227h2v1h-2zM539 226h1v1h-1zM540 225h1v2h-1zM541 224h1v1h-1zM542 222h1v2h-1zM543 221h1v1h-1zM544 219h1v2h-1zM545 218h1v1h-1zM546 216h1v2h-1zM547 215h1v1h-1zM548 213h1v2h-1zM549 212h1v1h-1zM550 210h1v2h-1zM551 209h1v1h-1zM552 207h1v2h-1zM553 205h1v2h-1zM554 204h1v1h-1zM555 203h1v1h-1zM556 201h1v2h-1zM557 200h1v1h-1zM558 198h1v2h-1zM559 197h1v1h-1zM560 195h1v2h-1zM561 195h4v1h-4zM565 194h2v1h-2zM567 195h2v1h-2zM569 196h1v1h-1zM570 197h3v1h-3zM573 196h7v1h-7zM580 195h5v1h-5zM585 194h2v1h-2zM587 193h1v1h-1zM588 192h1v1h-1zM589 191h1v1h-1zM590 190h1v1h-1zM591 189h1v1h-1zM592 188h1v1h-1zM593 186h1v2h-1zM594 185h1v1h-1zM595 184h1v1h-1zM596 182h1v2h-1zM597 181h1v2h-1zM598 181h1v1h-1zM599 180h2v1h-2zM601 179h1v1h-1zM602 180h2v1h-2zM604 181h2v1h-2zM606 182h11v1h-11zM617 181h2v1h-2zM619 180h2v1h-2zM621 179h2v1h-2zM623 178h2v1h-2zM625 177h2v1h-2zM627 176h2v1h-2zM629 175h2v1h-2zM631 174h4v1h-4zM635 173h1v2h-1zM636 174h2v1h-2zM638 175h3v1h-3zM641 176h1v2h-1zM642 178h1v1h-1zM643 179h1v1h-1zM644 180h1v1h-1zM645 181h1v1h-1zM646 182h1v1h-1zM647 183h1v2h-1zM648 185h1v1h-1zM649 186h1v1h-1zM650 187h1v1h-1zM651 188h1v1h-1zM652 189h1v1h-1zM653 190h1v1h-1zM654 191h1v1h-1zM655 192h2v1h-2zM657 193h2v1h-2zM659 194h2v1h-2zM661 195h2v1h-2zM663 196h3v1h-3zM666 197h3v1h-3zM669 198h3v1h-3zM672 199h3v1h-3zM675 200h3v1h-3zM678 201h2v1h-2zM680 202h2v1h-2zM682 203h2v1h-2zM684 204h2v1h-2zM686 205h1v1h-1zM687 206h1v1h-1zM688 205h11v1h-11zM699 204h5v1h-5zM704 205h4v1h-4zM708 206h4v1h-4zM712 207h3v1h-3zM715 208h3v1h-3zM718 209h3v1h-3zM721 210h3v1h-3zM724 211h2v1h-2zM726 211h1v2h-1zM727 213h1v2h-1zM728 215h1v2h-1zM729 217h1v2h-1zM730 219h1v2h-1zM731 221h1v3h-1zM732 224h1v2h-1zM733 226h1v2h-1zM734 228h1v2h-1zM735 230h1v2h-1zM736 232h1v3h-1zM737 235h1v2h-1zM738 237h1v2h-1zM739 239h1v1h-1zM740 240h1v2h-1zM741 242h1v1h-1zM742 243h1v1h-1zM743 244h1v2h-1zM744 246h1v1h-1zM745 247h1v2h-1zM746 249h1v2h-1zM747 251h1v2h-1zM748 253h1v2h-1zM749 255h1v2h-1zM750 257h1v2h-1zM751 259h1v2h-1zM752 261h1v2h-1zM753 263h1v2h-1zM754 265h1v1h-1zM755 266h1v2h-1zM756 268h1v1h-1zM757 269h1v2h-1zM758 271h1v1h-1zM759 272h1v2h-1zM760 274h1v2h-1zM761 276h1v1h-1zM762 277h1v2h-1zM763 279h1v1h-1zM764 280h1v2h-1zM765 282h1v2h-1zM766 284h1v2h-1zM767 286h1v2h-1zM768 288h1v2h-1zM769 290h1v2h-1zM770 292h1v2h-1zM771 294h1v2h-1zM772 296h1v3h-1zM773 299h1v2h-1zM774 301h1v3h-1zM775 304h1v3h-1zM776 307h1v1h-1zM777 308h1v2h-1zM778 310h1v1h-1zM779 311h1v2h-1zM780 313h1v2h-1zM781 315h5v1h-5zM786 316h9v1h-9zM795 317h2v1h-2zM797 318h1v1h-1zM798 319h2v1h-2zM800 320h1v1h-1zM801 321h1v1h-1zM802 322h1v1h-1zM803 323h1v1h-1zM804 324h1v1h-1zM805 325h1v1h-1zM806 326h1v1h-1zM807 327h1v1h-1zM808 328h1v1h-1zM809 329h1v1h-1zM810 330h1v1h-1zM811 331h1v1h-1zM812 332h1v1h-1zM813 333h1v1h-1zM814 334h1v1h-1zM815 335h1v2h-1zM816 337h1v1h-1zM817 338h1v1h-1zM818 339h1v1h-1zM819 340h1v1h-1zM820 341h1v1h-1zM821 342h1v1h-1zM822 343h1v1h-1zM823 344h1v1h-1zM824 345h1v1h-1zM825 345h1v2h-1zM826 346h1v1h-1zM827 347h1v1h-1zM828 348h2v1h-2zM830 349h1v1h-1zM831 349h1v2h-1zM832 351h1v1h-1zM833 352h1v1h-1zM834 353h1v2h-1zM835 355h1v2h-1zM836 357h1v2h-1zM837 359h1v1h-1zM838 360h1v2h-1zM839 362h1v2h-1zM840 364h1v2h-1zM841 366h1v2h-1zM842 368h1v2h-1zM843 370h1v3h-1zM844 373h1v1h-1zM845 374h1v1h-1zM846 375h1v1h-1zM847 376h1v2h-1zM848 378h1v1h-1zM849 379h1v2h-1zM850 381h1v1h-1zM851 382h1v1h-1zM852 383h1v2h-1zM853 384h1v1h-1zM854 385h1v1h-1zM855 386h1v1h-1zM856 387h1v1h-1zM857 388h2v1h-2zM859 389h1v1h-1zM860 390h1v1h-1zM861 391h1v1h-1zM862 392h1v2h-1zM863 394h1v1h-1zM864 395h1v1h-1zM865 396h1v2h-1zM866 398h1v1h-1zM867 399h1v1h-1zM868 400h1v1h-1zM869 401h1v1h-1zM870 402h1v1h-1zM871 403h1v1h-1zM872 404h1v1h-1zM873 405h1v1h-1zM874 406h1v1h-1zM875 407h1v1h-1zM876 408h1v1h-1zM877 409h1v1h-1zM878 410h2v1h-2zM880 411h1v1h-1zM881 412h1v1h-1zM882 413h2v1h-2zM884 414h4v1h-4zM888 415h2v1h-2zM890 414h2v1h-2zM892 413h2v1h-2zM894 412h2v1h-2zM896 411h11v1h-11zM907 412h5v1h-5zM912 413h10v1h-10zM922 414h2v1h-2z" fill="#ff0000"/>
<rect x="5" y="437" width="1" height="34" fill="#ff0000"/>
<rect x="4" y="437" width="3" height="34" fill="#ff0000"/>
<rect x="5" y="438" width="1" height="32" fill="#ff4500"/>
<rect x="9" y="427" width="1" height="30" fill="#32cd32"/>
<rect x="8" y="438" width="3" height="11" fill="#32cd32"/>
<rect x="13" y="434" width="1" height="32" fill="#ff0000"/>
<rect x="12" y="436" width="3" height="14" fill="#ff0000"/>
<rect x="13" y="437" width="1" height="12" fill="#ff4500"/>
<rect x="17" y="432" width="1" height="44" fill="#32cd32"/>
<rect x="16" y="436" width="3" height="32" fill="#32cd32"/>
<rect x="21" y="436" width="1" height="36" fill="#ff0000"/>
<rect x="20" y="443" width="3" height="25" fill="#ff0000"/>
<rect x="21" y="444" width="1" height="23" fill="#ff4500"/>
<rect x="25" y="440" width="1" height="7" fill="#ff0000"/>
<rect x="24" y="443" width="3" height="1" fill="#ff0000"/>
<rect x="29" y="429" width="1" height="37" fill="#32cd32"/>
<rect x="28" y="449" width="3" height="13" fill="#32cd32"/>
<rect x="33" y="412" width="1" height="58" fill="#ff0000"/>
<rect x="32" y="425" width="3" height="37" fill="#ff0000"/>
<rect x="33" y="426" width="1" height="35" fill="#ff4500"/>
<rect x="37" y="408" width="1" height="29" fill="#ff0000"/>
<rect x="36" y="421" width="3" height="5" fill="#ff0000"/>
<rect x="37" y="422" width="1" height="3" fill="#ff4500"/>
<rect x="41" y="408" width="1" height="14" fill="#ff0000"/>
<rect x="40" y="415" width="3" height="7" fill="#ff0000"/>
<rect x="41" y="416" width="1" height="5" fill="#ff4500"/>
<rect x="45" y="394" width="1" height="27" fill="#ff0000"/>
<rect x="44" y="396" width="3" height="20" fill="#ff0000"/>
<rect x="45" y="397" width="1" height="18" fill="#ff4500"/>
<rect x="49" y="394" width="1" height="10" fill="#32cd32"/>
<rect x="48" y="396" width="3" height="4" fill="#32cd32"/>
<rect x="53" y="389" width="1" height="29" fill="#32cd32"/>
<rect x="52" y="400" width="3" height="12" fill="#32cd32"/>
<rect x="57" y="408" width="1" height="21" fill="#32cd32"/>
<rect x="56" y="411" width="3" height="9" fill="#32cd32"/>
<rect x="61" y="397" width="1" height="25" fill="#ff0000"/>
<rect x="60" y="405" width="3" height="15" fill="#ff0000"/>
<rect x="61" y="406" width="1" height="13" fill="#ff4500"/>
<rect x="65" y="367" width="1" height="39" fill="#ff0000"/>
<rect x="64" y="368" width="3" height="37" fill="#ff0000"/>
<rect x="65" y="369" width="1" height="35" fill="#ff4500"/>
<rect x="69" y="365" width="1" height="23" fill="#32cd32"/>
<rect x="68" y="368" width="3" height="8" fill="#32cd32"/>
<rect x="73" y="370" width="1" height="7" fill="#ff0000"/>
<rect x="72" y="372" width="3" height="3" fill="#ff0000"/>
<rect x="73" y="373" width="1" height="1" fill="#ff4500"/>
<rect x="77" y="367" width="1" height="43" fill="#ff0000"/>
<rect x="76" y="368" width="3" height="9" fill="#ff0000"/>
<rect x="77" y="369" width="1" height="7" fill="#ff4500"/>
<rect x="81" y="363" width="1" height="32" fill="#32cd32"/>
<rect x="80" y="369" width="3" height="18" fill="#32cd32"/>
<rect x="85" y="345" width="1" height="47" fill="#ff0000"/>
<rect x="84" y="359" width="3" height="28" fill="#ff0000"/>
<rect x="85" y="360" width="1" height="26" fill="#ff4500"/>
<rect x="89" y="320" width="1" height="61" fill="#ff0000"/>
<rect x="88" y="327" width="3" height="32" fill="#ff0000"/>
<rect x="89" y="328" width="1" height="30" fill="#ff4500"/>
<rect x="93" y="296" width="1" height="35" fill="#ff0000"/>
<rect x="92" y="317" width="3" height="10" fill="#ff0000"/>
<rect x="93" y="318" width="1" height="8" fill="#ff4500"/>
<rect x="97" y="312" width="1" height="10" fill="#ff0000"/>
<rect x="96" y="316" width="3" height="2" fill="#ff0000"/>
<rect x="101" y="292" width="1" height="31" fill="#32cd32"/>
<rect x="100" y="309" width="3" height="9" fill="#32cd32"/>
<rect x="105" y="309" width="1" height="23" fill="#ff0000"/>
<rect x="104" y="314" width="3" height="2" fill="#ff0000"/>
<rect x="109" y="292" width="1" height="24" fill="#ff0000"/>
<rect x="108" y="301" width="3" height="14" fill="#ff0000"/>
<rect x="109" y="302" width="1" height="12" fill="#ff4500"/>
<rect x="113" y="258" width="1" height="58" fill="#ff0000"/>
<rect x="112" y="268" width="3" height="34" fill="#ff0000"/>
<rect x="113" y="269" width="1" height="32" fill="#ff4500"/>
<rect x="117" y="262" width="1" height="29" fill="#32cd32"/>
<rect x="116" y="268" width="3" height="7" fill="#32cd32"/>
<rect x="121" y="268" width="1" height="12" fill="#ff0000"/>
<rect x="120" y="271" width="3" height="4" fill="#ff0000"/>
<rect x="121" y="272" width="1" height="2" fill="#ff4500"/>
<rect x="125" y="276" width="1" height="83" fill="#32cd32"/>
<rect x="124" y="280" width="3" height="25" fill="#32cd32"/>
<rect x="129" y="281" width="1" height="47" fill="#32cd32"/>
<rect x="128" y="304" width="3" height="22" fill="#32cd32"/>
<rect x="133" y="285" width="1" height="42" fill="#ff0000"/>
<rect x="132" y="292" width="3" height="35" fill="#ff0000"/>
<rect x="133" y="293" width="1" height="33" fill="#ff4500"/>
<rect x="137" y="276" width="1" height="22" fill="#ff0000"/>
<rect x="136" y="282" width="3" height="11" fill="#ff0000"/>
<rect x="137" y="283" width="1" height="9" fill="#ff4500"/>
<rect x="141" y="278" width="1" height="10" fill="#32cd32"/>
<rect x="140" y="281" width="3" height="4" fill="#32cd32"/>
<rect x="145" y="267" width="1" height="38" fill="#32cd32"/>
<rect x="144" y="282" width="3" height="18" fill="#32cd32"/>
<rect x="149" y="269" width="1" height="32" fill="#ff0000"/>
<rect x="148" y="272" width="3" height="28" fill="#ff0000"/>
<rect x="149" y="273" width="1" height="26" fill="#ff4500"/>
<rect x="153" y="232" width="1" height="47" fill="#ff0000"/>
<rect x="152" y="232" width="3" height="41" fill="#ff0000"/>
<rect x="153" y="233" width="1" height="39" fill="#ff4500"/>
<rect x="157" y="200" width="1" height="39" fill="#ff0000"/>
<rect x="156" y="212" width="3" height="21" fill="#ff0000"/>
<rect x="157" y="213" width="1" height="19" fill="#ff4500"/>
<rect x="161" y="213" width="1" height="17" fill="#32cd32"/>
<rect x="160" y="213" width="3" height="16" fill="#32cd32"/>
<rect x="165" y="201" width="1" height="35" fill="#32cd32"/>
<rect x="164" y="227" width="3" height="7" fill="#32cd32"/>
<rect x="169" y="206" width="1" height="51" fill="#ff0000"/>
<rect x="168" y="208" width="3" height="26" fill="#ff0000"/>
<rect x="169" y="209" width="1" height="24" fill="#ff4500"/>
<rect x="173" y="156" width="1" height="55" fill="#ff0000"/>
<rect x="172" y="183" width="3" height="26" fill="#ff0000"/>
<rect x="173" y="184" width="1" height="24" fill="#ff4500"/>
<rect x="177" y="157" width="1" height="53" fill="#32cd32"/>
<rect x="176" y="183" width="3" height="14" fill="#32cd32"/>
<rect x="181" y="168" width="1" height="35" fill="#ff0000"/>
<rect x="180" y="177" width="3" height="20" fill="#ff0000"/>
<rect x="181" y="178" width="1" height="18" fill="#ff4500"/>
<rect x="185" y="176" width="1" height="32" fill="#32cd32"/>
<rect x="184" y="178" width="3" height="19" fill="#32cd32"/>
<rect x="189" y="192" width="1" height="51" fill="#32cd32"/>
<rect x="188" y="192" width="3" height="37" fill="#32cd32"/>
<rect x="193" y="201" width="1" height="32" fill="#ff0000"/>
<rect x="192" y="209" width="3" height="20" fill="#ff0000"/>
<rect x="193" y="210" width="1" height="18" fill="#ff4500"/>
<rect x="197" y="177" width="1" height="38" fill="#ff0000"/>
<rect x="196" y="201" width="3" height="9" fill="#ff0000"/>
<rect x="197" y="202" width="1" height="7" fill="#ff4500"/>
<rect x="201" y="181" width="1" height="29" fill="#ff0000"/>
<rect x="200" y="184" width="3" height="17" fill="#ff0000"/>
<rect x="201" y="185" width="1" height="15" fill="#ff4500"/>
<rect x="205" y="164" width="1" height="71" fill="#32cd32"/>
<rect x="204" y="184" width="3" height="39" fill="#32cd32"/>
<rect x="209" y="207" width="1" height="20" fill="#ff0000"/>
<rect x="208" y="219" width="3" height="4" fill="#ff0000"/>
<rect x="209" y="220" width="1" height="2" fill="#ff4500"/>
<rect x="213" y="218" width="1" height="30" fill="#32cd32"/>
<rect x="212" y="221" width="3" height="11" fill="#32cd32"/>
<rect x="217" y="208" width="1" height="30" fill="#ff0000"/>
<rect x="216" y="221" width="3" height="12" fill="#ff0000"/>
<rect x="217" y="222" width="1" height="10" fill="#ff4500"/>
<rect x="221" y="189" width="1" height="43" fill="#ff0000"/>
<rect x="220" y="198" width="3" height="25" fill="#ff0000"/>
<rect x="221" y="199" width="1" height="23" fill="#ff4500"/>
<rect x="225" y="177" width="1" height="28" fill="#ff0000"/>
<rect x="224" y="187" width="3" height="11" fill="#ff0000"/>
<rect x="225" y="188" width="1" height="9" fill="#ff4500"/>
<rect x="229" y="183" width="1" height="40" fill="#32cd32"/>
<rect x="228" y="187" width="3" height="26" fill="#32cd32"/>
<rect x="233" y="208" width="1" height="11" fill="#32cd32"/>
<rect x="232" y="212" width="3" height="3" fill="#32cd32"/>
<rect x="237" y="197" width="1" height="26" fill="#32cd32"/>
<rect x="236" y="219" width="3" height="3" fill="#32cd32"/>
<rect x="241" y="193" width="1" height="49" fill="#ff0000"/>
<rect x="240" y="197" width="3" height="25" fill="#ff0000"/>
<rect x="241" y="198" width="1" height="23" fill="#ff4500"/>
<rect x="245" y="187" width="1" height="69" fill="#32cd32"/>
<rect x="244" y="197" width="3" height="35" fill="#32cd32"/>
<rect x="249" y="223" width="1" height="63" fill="#32cd32"/>
<rect x="248" y="231" width="3" height="11" fill="#32cd32"/>
<rect x="253" y="221" width="1" height="40" fill="#ff0000"/>
<rect x="252" y="239" width="3" height="3" fill="#ff0000"/>
<rect x="253" y="240" width="1" height="1" fill="#ff4500"/>
<rect x="257" y="238" width="1" height="25" fill="#32cd32"/>
<rect x="256" y="239" width="3" height="20" fill="#32cd32"/>
<rect x="261" y="245" width="1" height="33" fill="#32cd32"/>
<rect x="260" y="265" width="3" height="6" fill="#32cd32"/>
<rect x="265" y="245" width="1" height="57" fill="#32cd32"/>
<rect x="264" y="270" width="3" height="23" fill="#32cd32"/>
<rect x="269" y="265" width="1" height="30" fill="#ff0000"/>
<rect x="268" y="273" width="3" height="20" fill="#ff0000"/>
<rect x="269" y="274" width="1" height="18" fill="#ff4500"/>
<rect x="273" y="253" width="1" height="35" fill="#32cd32"/>
<rect x="272" y="273" width="3" height="9" fill="#32cd32"/>
<rect x="277" y="247" width="1" height="43" fill="#ff0000"/>
<rect x="276" y="247" width="3" height="35" fill="#ff0000"/>
<rect x="277" y="248" width="1" height="33" fill="#ff4500"/>
<rect x="281" y="240" width="1" height="11" fill="#ff0000"/>
<rect x="280" y="242" width="3" height="6" fill="#ff0000"/>
<rect x="281" y="243" width="1" height="4" fill="#ff4500"/>
<rect x="285" y="215" width="1" height="36" fill="#ff0000"/>
<rect x="284" y="218" width="3" height="23" fill="#ff0000"/>
<rect x="285" y="219" width="1" height="21" fill="#ff4500"/>
<rect x="289" y="203" width="1" height="25" fill="#ff0000"/>
<rect x="288" y="209" width="3" height="10" fill="#ff0000"/>
<rect x="289" y="210" width="1" height="8" fill="#ff4500"/>
<rect x="293" y="192" width="1" height="26" fill="#ff0000"/>
<rect x="292" y="205" width="3" height="5" fill="#ff0000"/>
<rect x="293" y="206" width="1" height="3" fill="#ff4500"/>
<rect x="297" y="183" width="1" height="34" fill="#ff0000"/>
<rect x="296" y="190" width="3" height="16" fill="#ff0000"/>
<rect x="297" y="191" width="1" height="14" fill="#ff4500"/>
<rect x="301" y="189" width="1" height="25" fill="#32cd32"/>
<rect x="300" y="189" width="3" height="7" fill="#32cd32"/>
<rect x="305" y="187" width="1" height="12" fill="#ff0000"/>
<rect x="304" y="192" width="3" height="4" fill="#ff0000"/>
<rect x="305" y="193" width="1" height="2" fill="#ff4500"/>
<rect x="309" y="174" width="1" height="17" fill="#ff0000"/>
<rect x="308" y="176" width="3" height="15" fill="#ff0000"/>
<rect x="309" y="177" width="1" height="13" fill="#ff4500"/>
<rect x="313" y="165" width="1" height="34" fill="#32cd32"/>
<rect x="312" y="176" width="3" height="7" fill="#32cd32"/>
<rect x="317" y="180" width="1" height="31" fill="#32cd32"/>
<rect x="316" y="182" width="3" height="23" fill="#32cd32"/>
<rect x="321" y="172" width="1" height="39" fill="#ff0000"/>
<rect x="320" y="201" width="3" height="4" fill="#ff0000"/>
<rect x="321" y="202" width="1" height="2" fill="#ff4500"/>
<rect x="325" y="129" width="1" height="75" fill="#ff0000"/>
<rect x="324" y="132" width="3" height="69" fill="#ff0000"/>
<rect x="325" y="133" width="1" height="67" fill="#ff4500"/>
<rect x="329" y="123" width="1" height="12" fill="#ff0000"/>
<rect x="328" y="130" width="3" height="4" fill="#ff0000"/>
<rect x="329" y="131" width="1" height="2" fill="#ff4500"/>
<rect x="333" y="100" width="1" height="37" fill="#ff0000"/>
<rect x="332" y="108" width="3" height="20" fill="#ff0000"/>
<rect x="333" y="109" width="1" height="18" fill="#ff4500"/>
<rect x="337" y="91" width="1" height="32" fill="#ff0000"/>
<rect x="336" y="106" width="3" height="3" fill="#ff0000"/>
<rect x="337" y="107" width="1" height="1" fill="#ff4500"/>
<rect x="341" y="85" width="1" height="29" fill="#ff0000"/>
<rect x="340" y="100" width="3" height="7" fill="#ff0000"/>
<rect x="341" y="101" width="1" height="5" fill="#ff4500"/>
<rect x="345" y="50" width="1" height="52" fill="#ff0000"/>
<rect x="344" y="78" width="3" height="23" fill="#ff0000"/>
<rect x="345" y="79" width="1" height="21" fill="#ff4500"/>
<rect x="349" y="75" width="1" height="132" fill="#32cd32"/>
<rect x="348" y="78" width="3" height="120" fill="#32cd32"/>
<rect x="353" y="193" width="1" height="27" fill="#32cd32"/>
<rect x="352" y="198" width="3" height="21" fill="#32cd32"/>
<rect x="357" y="175" width="1" height="43" fill="#ff0000"/>
<rect x="356" y="176" width="3" height="38" fill="#ff0000"/>
<rect x="357" y="177" width="1" height="36" fill="#ff4500"/>
<rect x="361" y="159" width="1" height="45" fill="#ff0000"/>
<rect x="360" y="160" width="3" height="18" fill="#ff0000"/>
<rect x="361" y="161" width="1" height="16" fill="#ff4500"/>
<rect x="365" y="145" width="1" height="40" fill="#32cd32"/>
<rect x="364" y="159" width="3" height="11" fill="#32cd32"/>
<rect x="369" y="159" width="1" height="36" fill="#ff0000"/>
<rect x="368" y="166" width="3" height="4" fill="#ff0000"/>
<rect x="369" y="167" width="1" height="2" fill="#ff4500"/>
<rect x="373" y="160" width="1" height="109" fill="#32cd32"/>
<rect x="372" y="167" width="3" height="78" fill="#32cd32"/>
<rect x="377" y="228" width="1" height="24" fill="#ff0000"/>
<rect x="376" y="230" width="3" height="15" fill="#ff0000"/>
<rect x="377" y="231" width="1" height="13" fill="#ff4500"/>
<rect x="381" y="211" width="1" height="50" fill="#32cd32"/>
<rect x="380" y="226" width="3" height="17" fill="#32cd32"/>
<rect x="385" y="217" width="1" height="52" fill="#ff0000"/>
<rect x="384" y="225" width="3" height="18" fill="#ff0000"/>
<rect x="385" y="226" width="1" height="16" fill="#ff4500"/>
<rect x="389" y="198" width="1" height="44" fill="#ff0000"/>
<rect x="388" y="217" width="3" height="9" fill="#ff0000"/>
<rect x="389" y="218" width="1" height="7" fill="#ff4500"/>
<rect x="393" y="176" width="1" height="46" fill="#ff0000"/>
<rect x="392" y="187" width="3" height="31" fill="#ff0000"/>
<rect x="393" y="188" width="1" height="29" fill="#ff4500"/>
<rect x="397" y="167" width="1" height="44" fill="#32cd32"/>
<rect x="396" y="187" width="3" height="10" fill="#32cd32"/>
<rect x="401" y="181" width="1" height="17" fill="#ff0000"/>
<rect x="400" y="191" width="3" height="6" fill="#ff0000"/>
<rect x="401" y="192" width="1" height="4" fill="#ff4500"/>
<rect x="405" y="181" width="1" height="39" fill="#32cd32"/>
<rect x="404" y="193" width="3" height="15" fill="#32cd32"/>
<rect x="409" y="190" width="1" height="29" fill="#ff0000"/>
<rect x="408" y="197" width="3" height="11" fill="#ff0000"/>
<rect x="409" y="198" width="1" height="9" fill="#ff4500"/>
<rect x="413" y="191" width="1" height="30" fill="#32cd32"/>
<rect x="412" y="197" width="3" height="23" fill="#32cd32"/>
<rect x="417" y="139" width="1" height="86" fill="#ff0000"/>
<rect x="416" y="170" width="3" height="50" fill="#ff0000"/>
<rect x="417" y="171" width="1" height="48" fill="#ff4500"/>
<rect x="421" y="165" width="1" height="49" fill="#32cd32"/>
<rect x="420" y="170" width="3" height="29" fill="#32cd32"/>
<rect x="425" y="192" width="1" height="8" fill="#ff0000"/>
<rect x="424" y="196" width="3" height="4" fill="#ff0000"/>
<rect x="425" y="197" width="1" height="2" fill="#ff4500"/>
<rect x="429" y="192" width="1" height="30" fill="#ff0000"/>
<rect x="428" y="196" width="3" height="17" fill="#ff0000"/>
<rect x="429" y="197" width="1" height="15" fill="#ff4500"/>
<rect x="433" y="192" width="1" height="58" fill="#32cd32"/>
<rect x="432" y="196" width="3" height="39" fill="#32cd32"/>
<rect x="437" y="233" width="1" height="58" fill="#32cd32"/>
<rect x="436" y="234" width="3" height="35" fill="#32cd32"/>
<rect x="441" y="264" width="1" height="38" fill="#32cd32"/>
<rect x="440" y="267" width="3" height="31" fill="#32cd32"/>
<rect x="445" y="259" width="1" height="39" fill="#ff0000"/>
<rect x="444" y="264" width="3" height="34" fill="#ff0000"/>
<rect x="445" y="265" width="1" height="32" fill="#ff4500"/>
<rect x="449" y="261" width="1" height="11" fill="#32cd32"/>
<rect x="448" y="264" width="3" height="4" fill="#32cd32"/>
<rect x="453" y="249" width="1" height="23" fill="#ff0000"/>
<rect x="452" y="256" width="3" height="3" fill="#ff0000"/>
<rect x="453" y="257" width="1" height="1" fill="#ff4500"/>
<rect x="457" y="244" width="1" height="40" fill="#32cd32"/>
<rect x="456" y="256" width="3" height="21" fill="#32cd32"/>
<rect x="461" y="259" width="1" height="31" fill="#ff0000"/>
<rect x="460" y="273" width="3" height="4" fill="#ff0000"/>
<rect x="461" y="274" width="1" height="2" fill="#ff4500"/>
<rect x="465" y="268" width="1" height="51" fill="#32cd32"/>
<rect x="464" y="273" width="3" height="6" fill="#32cd32"/>
<rect x="469" y="269" width="1" height="10" fill="#ff0000"/>
<rect x="468" y="271" width="3" height="7" fill="#ff0000"/>
<rect x="469" y="272" width="1" height="5" fill="#ff4500"/>
<rect x="473" y="278" width="1" height="6" fill="#32cd32"/>
<rect x="472" y="279" width="3" height="2" fill="#32cd32"/>
<rect x="477" y="246" width="1" height="36" fill="#ff0000"/>
<rect x="476" y="248" width="3" height="27" fill="#ff0000"/>
<rect x="477" y="249" width="1" height="25" fill="#ff4500"/>
<rect x="481" y="245" width="1" height="33" fill="#ff0000"/>
<rect x="480" y="247" width="3" height="2" fill="#ff0000"/>
<rect x="485" y="237" width="1" height="37" fill="#32cd32"/>
<rect x="484" y="247" width="3" height="20" fill="#32cd32"/>
<rect x="489" y="252" width="1" height="29" fill="#ff0000"/>
<rect x="488" y="258" width="3" height="8" fill="#ff0000"/>
<rect x="489" y="259" width="1" height="6" fill="#ff4500"/>
<rect x="493" y="246" width="1" height="42" fill="#32cd32"/>
<rect x="492" y="258" width="3" height="6" fill="#32cd32"/>
<rect x="497" y="262" width="1" height="6" fill="#32cd32"/>
<rect x="496" y="263" width="3" height="4" fill="#32cd32"/>
<rect x="501" y="260" width="1" height="24" fill="#32cd32"/>
<rect x="500" y="268" width="3" height="2" fill="#32cd32"/>
<rect x="505" y="262" width="1" height="27" fill="#ff0000"/>
<rect x="504" y="264" width="3" height="6" fill="#ff0000"/>
<rect x="505" y="265" width="1" height="4" fill="#ff4500"/>
<rect x="509" y="205" width="1" height="60" fill="#ff0000"/>
<rect x="508" y="206" width="3" height="59" fill="#ff0000"/>
<rect x="509" y="207" width="1" height="57" fill="#ff4500"/>
<rect x="513" y="189" width="1" height="32" fill="#ff0000"/>
<rect x="512" y="198" width="3" height="10" fill="#ff0000"/>
<rect x="513" y="199" width="1" height="8" fill="#ff4500"/>
<rect x="517" y="190" width="1" height="21" fill="#32cd32"/>
<rect x="516" y="198" width="3" height="8" fill="#32cd32"/>
<rect x="521" y="202" width="1" height="6" fill="#32cd32"/>
<rect x="520" y="205" width="3" height="1" fill="#32cd32"/>
<rect x="525" y="176" width="1" height="45" fill="#ff0000"/>
<rect x="524" y="191" width="3" height="21" fill="#ff0000"/>
<rect x="525" y="192" width="1" height="19" fill="#ff4500"/>
<rect x="529" y="158" width="1" height="50" fill="#32cd32"/>
<rect x="528" y="191" width="3" height="10" fill="#32cd32"/>
<rect x="533" y="188" width="1" height="37" fill="#ff0000"/>
<rect x="532" y="193" width="3" height="9" fill="#ff0000"/>
<rect x="533" y="194" width="1" height="7" fill="#ff4500"/>
<rect x="537" y="187" width="1" height="32" fill="#32cd32"/>
<rect x="536" y="193" width="3" height="19" fill="#32cd32"/>
<rect x="541" y="198" width="1" height="32" fill="#ff0000"/>
<rect x="540" y="202" width="3" height="10" fill="#ff0000"/>
<rect x="541" y="203" width="1" height="8" fill="#ff4500"/>
<rect x="545" y="189" width="1" height="15" fill="#ff0000"/>
<rect x="544" y="191" width="3" height="11" fill="#ff0000"/>
<rect x="545" y="192" width="1" height="9" fill="#ff4500"/>
<rect x="549" y="158" width="1" height="43" fill="#ff0000"/>
<rect x="548" y="166" width="3" height="32" fill="#ff0000"/>
<rect x="549" y="167" width="1" height="30" fill="#ff4500"/>
<rect x="553" y="163" width="1" height="25" fill="#32cd32"/>
<rect x="552" y="166" width="3" height="16" fill="#32cd32"/>
<rect x="557" y="181" width="1" height="29" fill="#32cd32"/>
<rect x="556" y="182" width="3" height="3" fill="#32cd32"/>
<rect x="561" y="157" width="1" height="38" fill="#32cd32"/>
<rect x="560" y="185" width="3" height="6" fill="#32cd32"/>
<rect x="565" y="176" width="1" height="46" fill="#32cd32"/>
<rect x="564" y="191" width="3" height="24" fill="#32cd32"/>
<rect x="569" y="213" width="1" height="10" fill="#32cd32"/>
<rect x="568" y="215" width="3" height="8" fill="#32cd32"/>
<rect x="573" y="187" width="1" height="34" fill="#ff0000"/>
<rect x="572" y="191" width="3" height="23" fill="#ff0000"/>
<rect x="573" y="192" width="1" height="21" fill="#ff4500"/>
<rect x="577" y="186" width="1" height="53" fill="#32cd32"/>
<rect x="576" y="191" width="3" height="40" fill="#32cd32"/>
<rect x="581" y="193" width="1" height="39" fill="#ff0000"/>
<rect x="580" y="196" width="3" height="35" fill="#ff0000"/>
<rect x="581" y="197" width="1" height="33" fill="#ff4500"/>
<rect x="585" y="181" width="1" height="45" fill="#ff0000"/>
<rect x="584" y="186" width="3" height="10" fill="#ff0000"/>
<rect x="585" y="187" width="1" height="8" fill="#ff4500"/>
<rect x="589" y="132" width="1" height="58" fill="#ff0000"/>
<rect x="588" y="133" width="3" height="53" fill="#ff0000"/>
<rect x="589" y="134" width="1" height="51" fill="#ff4500"/>
<rect x="593" y="133" width="1" height="13" fill="#32cd32"/>
<rect x="592" y="133" width="3" height="8" fill="#32cd32"/>
<rect x="597" y="116" width="1" height="30" fill="#ff0000"/>
<rect x="596" y="125" width="3" height="13" fill="#ff0000"/>
<rect x="597" y="126" width="1" height="11" fill="#ff4500"/>
<rect x="601" y="124" width="1" height="32" fill="#32cd32"/>
<rect x="600" y="125" width="3" height="19" fill="#32cd32"/>
<rect x="605" y="140" width="1" height="66" fill="#32cd32"/>
<rect x="604" y="143" width="3" height="62" fill="#32cd32"/>
<rect x="609" y="197" width="1" height="34" fill="#32cd32"/>
<rect x="608" y="205" width="3" height="7" fill="#32cd32"/>
<rect x="613" y="178" width="1" height="42" fill="#ff0000"/>
<rect x="612" y="180" width="3" height="32" fill="#ff0000"/>
<rect x="613" y="181" width="1" height="30" fill="#ff4500"/>
<rect x="617" y="174" width="1" height="8" fill="#ff0000"/>
<rect x="616" y="175" width="3" height="6" fill="#ff0000"/>
<rect x="617" y="176" width="1" height="4" fill="#ff4500"/>
<rect x="621" y="177" width="1" height="30" fill="#32cd32"/>
<rect x="620" y="179" width="3" height="7" fill="#32cd32"/>
<rect x="625" y="159" width="1" height="31" fill="#ff0000"/>
<rect x="624" y="178" width="3" height="9" fill="#ff0000"/>
<rect x="625" y="179" width="1" height="7" fill="#ff4500"/>
<rect x="629" y="164" width="1" height="43" fill="#32cd32"/>
<rect x="628" y="178" width="3" height="17" fill="#32cd32"/>
<rect x="633" y="177" width="1" height="41" fill="#ff0000"/>
<rect x="632" y="178" width="3" height="16" fill="#ff0000"/>
<rect x="633" y="179" width="1" height="14" fill="#ff4500"/>
<rect x="637" y="177" width="1" height="31" fill="#32cd32"/>
<rect x="636" y="179" width="3" height="28" fill="#32cd32"/>
<rect x="641" y="204" width="1" height="10" fill="#ff0000"/>
<rect x="640" y="205" width="3" height="2" fill="#ff0000"/>
<rect x="645" y="192" width="1" height="29" fill="#ff0000"/>
<rect x="644" y="201" width="3" height="9" fill="#ff0000"/>
<rect x="645" y="202" width="1" height="7" fill="#ff4500"/>
<rect x="649" y="180" width="1" height="24" fill="#ff0000"/>
<rect x="648" y="201" width="3" height="2" fill="#ff0000"/>
<rect x="653" y="169" width="1" height="38" fill="#ff0000"/>
<rect x="652" y="199" width="3" height="3" fill="#ff0000"/>
<rect x="653" y="200" width="1" height="1" fill="#ff4500"/>
<rect x="657" y="191" width="1" height="20" fill="#32cd32"/>
<rect x="656" y="199" width="3" height="5" fill="#32cd32"/>
<rect x="661" y="197" width="1" height="40" fill="#32cd32"/>
<rect x="660" y="203" width="3" height="19" fill="#32cd32"/>
<rect x="665" y="215" width="1" height="7" fill="#ff0000"/>
<rect x="664" y="219" width="3" height="3" fill="#ff0000"/>
<rect x="665" y="220" width="1" height="1" fill="#ff4500"/>
<rect x="669" y="199" width="1" height="25" fill="#ff0000"/>
<rect x="668" y="201" width="3" height="17" fill="#ff0000"/>
<rect x="669" y="202" width="1" height="15" fill="#ff4500"/>
<rect x="673" y="184" width="1" height="22" fill="#ff0000"/>
<rect x="672" y="187" width="3" height="14" fill="#ff0000"/>
<rect x="673" y="188" width="1" height="12" fill="#ff4500"/>
<rect x="677" y="182" width="1" height="34" fill="#32cd32"/>
<rect x="676" y="187" width="3" height="9" fill="#32cd32"/>
<rect x="681" y="192" width="1" height="62" fill="#32cd32"/>
<rect x="680" y="194" width="3" height="58" fill="#32cd32"/>
<rect x="685" y="199" width="1" height="56" fill="#ff0000"/>
<rect x="684" y="200" width="3" height="52" fill="#ff0000"/>
<rect x="685" y="201" width="1" height="50" fill="#ff4500"/>
<rect x="689" y="198" width="1" height="5" fill="#ff0000"/>
<rect x="688" y="199" width="3" height="2" fill="#ff0000"/>
<rect x="693" y="186" width="1" height="23" fill="#ff0000"/>
<rect x="692" y="187" width="3" height="14" fill="#ff0000"/>
<rect x="693" y="188" width="1" height="12" fill="#ff4500"/>
<rect x="697" y="187" width="1" height="19" fill="#32cd32"/>
<rect x="696" y="187" width="3" height="14" fill="#32cd32"/>
<rect x="701" y="188" width="1" height="22" fill="#32cd32"/>
<rect x="700" y="201" width="3" height="6" fill="#32cd32"/>
<rect x="705" y="188" width="1" height="27" fill="#ff0000"/>
<rect x="704" y="194" width="3" height="13" fill="#ff0000"/>
<rect x="705" y="195" width="1" height="11" fill="#ff4500"/>
<rect x="709" y="181" width="1" height="49" fill="#32cd32"/>
<rect x="708" y="194" width="3" height="33" fill="#32cd32"/>
<rect x="713" y="222" width="1" height="9" fill="#ff0000"/>
<rect x="712" y="222" width="3" height="5" fill="#ff0000"/>
<rect x="713" y="223" width="1" height="3" fill="#ff4500"/>
<rect x="717" y="209" width="1" height="19" fill="#ff0000"/>
<rect x="716" y="214" width="3" height="6" fill="#ff0000"/>
<rect x="717" y="215" width="1" height="4" fill="#ff4500"/>
<rect x="721" y="213" width="1" height="26" fill="#32cd32"/>
<rect x="720" y="214" width="3" height="24" fill="#32cd32"/>
<rect x="725" y="215" width="1" height="24" fill="#ff0000"/>
<rect x="724" y="217" width="3" height="21" fill="#ff0000"/>
<rect x="725" y="218" width="1" height="19" fill="#ff4500"/>
<rect x="729" y="214" width="1" height="94" fill="#32cd32"/>
<rect x="728" y="216" width="3" height="91" fill="#32cd32"/>
<rect x="733" y="302" width="1" height="47" fill="#32cd32"/>
<rect x="732" y="306" width="3" height="32" fill="#32cd32"/>
<rect x="737" y="330" width="1" height="12" fill="#ff0000"/>
<rect x="736" y="338" width="3" height="1" fill="#ff0000"/>
<rect x="741" y="316" width="1" height="34" fill="#ff0000"/>
<rect x="740" y="321" width="3" height="16" fill="#ff0000"/>
<rect x="741" y="322" width="1" height="14" fill="#ff4500"/>
<rect x="745" y="311" width="1" height="30" fill="#32cd32"/>
<rect x="744" y="321" width="3" height="1" fill="#32cd32"/>
<rect x="749" y="281" width="1" height="41" fill="#ff0000"/>
<rect x="748" y="287" width="3" height="35" fill="#ff0000"/>
<rect x="749" y="288" width="1" height="33" fill="#ff4500"/>
<rect x="753" y="285" width="1" height="14" fill="#32cd32"/>
<rect x="752" y="287" width="3" height="10" fill="#32cd32"/>
<rect x="757" y="271" width="1" height="25" fill="#ff0000"/>
<rect x="756" y="283" width="3" height="13" fill="#ff0000"/>
<rect x="757" y="284" width="1" height="11" fill="#ff4500"/>
<rect x="761" y="282" width="1" height="9" fill="#32cd32"/>
<rect x="760" y="283" width="3" height="5" fill="#32cd32"/>
<rect x="765" y="279" width="1" height="28" fill="#32cd32"/>
<rect x="764" y="287" width="3" height="9" fill="#32cd32"/>
<rect x="769" y="294" width="1" height="39" fill="#32cd32"/>
<rect x="768" y="295" width="3" height="33" fill="#32cd32"/>
<rect x="773" y="321" width="1" height="21" fill="#32cd32"/>
<rect x="772" y="327" width="3" height="13" fill="#32cd32"/>
<rect x="777" y="332" width="1" height="27" fill="#32cd32"/>
<rect x="776" y="339" width="3" height="15" fill="#32cd32"/>
<rect x="781" y="336" width="1" height="33" fill="#ff0000"/>
<rect x="780" y="338" width="3" height="16" fill="#ff0000"/>
<rect x="781" y="339" width="1" height="14" fill="#ff4500"/>
<rect x="785" y="317" width="1" height="25" fill="#ff0000"/>
<rect x="784" y="319" width="3" height="19" fill="#ff0000"/>
<rect x="785" y="320" width="1" height="17" fill="#ff4500"/>
<rect x="789" y="315" width="1" height="17" fill="#ff0000"/>
<rect x="788" y="319" width="3" height="7" fill="#ff0000"/>
<rect x="789" y="320" width="1" height="5" fill="#ff4500"/>
<rect x="793" y="281" width="1" height="64" fill="#32cd32"/>
<rect x="792" y="319" width="3" height="20" fill="#32cd32"/>
<rect x="797" y="318" width="1" height="41" fill="#32cd32"/>
<rect x="796" y="338" width="3" height="9" fill="#32cd32"/>
<rect x="801" y="333" width="1" height="52" fill="#32cd32"/>
<rect x="800" y="345" width="3" height="28" fill="#32cd32"/>
<rect x="805" y="343" width="1" height="46" fill="#ff0000"/>
<rect x="804" y="349" width="3" height="24" fill="#ff0000"/>
<rect x="805" y="350" width="1" height="22" fill="#ff4500"/>
<rect x="809" y="340" width="1" height="10" fill="#ff0000"/>
<rect x="808" y="342" width="3" height="7" fill="#ff0000"/>
<rect x="809" y="343" width="1" height="5" fill="#ff4500"/>
<rect x="813" y="339" width="1" height="28" fill="#ff0000"/>
<rect x="812" y="342" width="3" height="2" fill="#ff0000"/>
<rect x="817" y="335" width="1" height="43" fill="#32cd32"/>
<rect x="816" y="343" width="3" height="11" fill="#32cd32"/>
<rect x="821" y="345" width="1" height="31" fill="#32cd32"/>
<rect x="820" y="353" width="3" height="3" fill="#32cd32"/>
<rect x="825" y="344" width="1" height="31" fill="#32cd32"/>
<rect x="824" y="355" width="3" height="19" fill="#32cd32"/>
<rect x="829" y="369" width="1" height="25" fill="#32cd32"/>
<rect x="828" y="373" width="3" height="16" fill="#32cd32"/>
<rect x="833" y="384" width="1" height="10" fill="#32cd32"/>
<rect x="832" y="388" width="3" height="5" fill="#32cd32"/>
<rect x="837" y="396" width="1" height="39" fill="#32cd32"/>
<rect x="836" y="398" width="3" height="27" fill="#32cd32"/>
<rect x="841" y="417" width="1" height="34" fill="#32cd32"/>
<rect x="840" y="425" width="3" height="12" fill="#32cd32"/>
<rect x="845" y="416" width="1" height="41" fill="#ff0000"/>
<rect x="844" y="418" width="3" height="19" fill="#ff0000"/>
<rect x="845" y="419" width="1" height="17" fill="#ff4500"/>
<rect x="849" y="395" width="1" height="32" fill="#ff0000"/>
<rect x="848" y="414" width="3" height="5" fill="#ff0000"/>
<rect x="849" y="415" width="1" height="3" fill="#ff4500"/>
<rect x="853" y="399" width="1" height="19" fill="#32cd32"/>
<rect x="852" y="414" width="3" height="1" fill="#32cd32"/>
<rect x="857" y="409" width="1" height="6" fill="#ff0000"/>
<rect x="856" y="413" width="3" height="2" fill="#ff0000"/>
<rect x="861" y="399" width="1" height="34" fill="#ff0000"/>
<rect x="860" y="401" width="3" height="12" fill="#ff0000"/>
<rect x="861" y="402" width="1" height="10" fill="#ff4500"/>
<rect x="865" y="399" width="1" height="31" fill="#32cd32"/>
<rect x="864" y="401" width="3" height="11" fill="#32cd32"/>
<rect x="869" y="407" width="1" height="31" fill="#32cd32"/>
<rect x="868" y="412" width="3" height="12" fill="#32cd32"/>
<rect x="873" y="386" width="1" height="55" fill="#ff0000"/>
<rect x="872" y="393" width="3" height="31" fill="#ff0000"/>
<rect x="873" y="394" width="1" height="29" fill="#ff4500"/>
<rect x="877" y="390" width="1" height="35" fill="#32cd32"/>
<rect x="876" y="392" width="3" height="29" fill="#32cd32"/>
<rect x="881" y="421" width="1" height="12" fill="#32cd32"/>
<rect x="880" y="421" width="3" height="10" fill="#32cd32"/>
<rect x="885" y="403" width="1" height="31" fill="#ff0000"/>
<rect x="884" y="414" width="3" height="12" fill="#ff0000"/>
<rect x="885" y="415" width="1" height="10" fill="#ff4500"/>
<rect x="889" y="388" width="1" height="31" fill="#ff0000"/>
<rect x="888" y="402" width="3" height="13" fill="#ff0000"/>
<rect x="889" y="403" width="1" height="11" fill="#ff4500"/>
<rect x="893" y="378" width="1" height="33" fill="#32cd32"/>
<rect x="892" y="402" width="3" height="4" fill="#32cd32"/>
<rect x="897" y="384" width="1" height="24" fill="#ff0000"/>
<rect x="896" y="388" width="3" height="18" fill="#ff0000"/>
<rect x="897" y="389" width="1" height="16" fill="#ff4500"/>
<rect x="901" y="388" width="1" height="36" fill="#32cd32"/>
<rect x="900" y="388" width="3" height="31" fill="#32cd32"/>
<rect x="905" y="416" width="1" height="6" fill="#32cd32"/>
<rect x="904" y="418" width="3" height="4" fill="#32cd32"/>
<rect x="909" y="414" width="1" height="21" fill="#ff0000"/>
<rect x="908" y="427" width="3" height="1" fill="#ff0000"/>
<rect x="913" y="418" width="1" height="24" fill="#ff0000"/>
<rect x="912" y="424" width="3" height="4" fill="#ff0000"/>
<rect x="913" y="425" width="1" height="2" fill="#ff4500"/>
<rect x="917" y="401" width="1" height="37" fill="#ff0000"/>
<rect x="916" y="408" width="3" height="17" fill="#ff0000"/>
<rect x="917" y="409" width="1" height="15" fill="#ff4500"/>
<rect x="921" y="399" width="1" height="31" fill="#32cd32"/>
<rect x="920" y="408" width="3" height="17" fill="#32cd32"/>
<rect x="925" y="422" width="1" height="11" fill="#32cd32"/>
<rect x="924" y="425" width="3" height="2" fill="#32cd32"/>
</g>
<rect x="4" y="27" width="1164" height="1" fill="#000"/><rect x="4" y="487" width="1164" height="1" fill="#000"/><rect x="4" y="27" width="1" height="461" fill="#000"/><rect x="1167" y="27" width="1" height="461" fill="#000"/>
<rect x="4" y="489" width="1164" height="1" fill="#000"/><rect x="4" y="573" width="1164" height="1" fill="#000"/><rect x="4" y="489" width="1" height="85" fill="#000"/><rect x="1167" y="489" width="1" height="85" fill="#000"/>
<rect x="4" y="575" width="1164" height="1" fill="#000"/><rect x="4" y="662" width="1164" height="1" fill="#000"/><rect x="4" y="575" width="1" height="88" fill="#000"/><rect x="1167" y="575" width="1" height="88" fill="#000"/>
<rect x="4" y="389" width="6" height="6" fill="#00ff00"/><rect x="6" y="391" width="2" height="2" fill="#fff"/>
<rect x="1161" y="389" width="6" height="6" fill="#00ff00"/><rect x="1163" y="391" width="2" height="2" fill="#fff"/>
<rect x="4" y="479" width="6" height="6" fill="#0000ff"/><rect x="6" y="481" width="2" height="2" fill="#fff"/>
<rect x="1161" y="479" width="6" height="6" fill="#0000ff"/><rect x="1163" y="481" width="2" height="2" fill="#fff"/>
<rect x="4" y="515" width="3" height="21" fill="#c0c0c0"/>
<rect x="8" y="514" width="3" height="22" fill="#c0c0c0"/>
<rect x="12" y="512" width="3" height="24" fill="#c0c0c0"/>
<rect x="16" y="514" width="3" height="22" fill="#c0c0c0"/>
<rect x="20" y="514" width="3" height="22" fill="#c0c0c0"/>
<rect x="24" y="514" width="3" height="22" fill="#c0c0c0"/>
<rect x="28" y="515" width="3" height="21" fill="#c0c0c0"/>
<rect x="32" y="514" width="3" height="22" fill="#c0c0c0"/>
<rect x="36" y="513" width="3" height="23" fill="#c0c0c0"/>
<rect x="40" y="512" width="3" height="24" fill="#c0c0c0"/>
<rect x="44" y="510" width="3" height="26" fill="#c0c0c0"/>
<rect x="48" y="510" width="3" height="26" fill="#c0c0c0"/>
<rect x="52" y="510" width="3" height="26" fill="#c0c0c0"/>
<rect x="56" y="512" width="3" height="24" fill="#c0c0c0"/>
<rect x="60" y="512" width="3" height="24" fill="#c0c0c0"/>
<rect x="64" y="509" width="3" height="27" fill="#c0c0c0"/>
<rect x="68" y="508" width="3" height="28" fill="#c0c0c0"/>
<rect x="72" y="508" width="3" height="28" fill="#c0c0c0"/>
<rect x="76" y="507" width="3" height="29" fill="#c0c0c0"/>
<rect x="80" y="509" width="3" height="27" fill="#c0c0c0"/>
<rect x="84" y="508" width="3" height="28" fill="#c0c0c0"/>
<rect x="88" y="505" width="3" height="31" fill="#c0c0c0"/>
<rect x="92" y="503" width="3" height="33" fill="#c0c0c0"/>
<rect x="96" y="502" width="3" height="34" fill="#c0c0c0"/>
<rect x="100" y="501" width="3" height="35" fill="#c0c0c0"/>
<rect x="104" y="501" width="3" height="35" fill="#c0c0c0"/>
<rect x="108" y="499" width="3" height="37" fill="#c0c0c0"/>
<rect x="112" y="497" width="3" height="39" fill="#c0c0c0"/>
<rect x="116" y="496" width="3" height="40" fill="#c0c0c0"/>
<rect x="120" y="495" width="3" height="41" fill="#c0c0c0"/>
<rect x="124" y="498" width="3" height="38" fill="#c0c0c0"/>
<rect x="128" y="501" width="3" height="35" fill="#c0c0c0"/>
<rect x="132" y="501" width="3" height="35" fill="#c0c0c0"/>
<rect x="136" y="503" width="3" height="33" fill="#c0c0c0"/>
<rect x="140" y="504" width="3" height="32" fill="#c0c0c0"/>
<rect x="144" y="506" width="3" height="30" fill="#c0c0c0"/>
<rect x="148" y="506" width="3" height="30" fill="#c0c0c0"/>
<rect x="152" y="502" width="3" height="34" fill="#c0c0c0"/>
<rect x="156" y="500" width="3" height="36" fill="#c0c0c0"/>
<rect x="160" y="499" width="3" height="37" fill="#c0c0c0"/>
<rect x="164" y="500" width="3" height="36" fill="#c0c0c0"/>
<rect x="168" y="498" width="3" height="38" fill="#c0c0c0"/>
<rect x="172" y="496" width="3" height="40" fill="#c0c0c0"/>
<rect x="176" y="495" width="3" height="41" fill="#c0c0c0"/>
<rect x="180" y="494" width="3" height="42" fill="#c0c0c0"/>
<rect x="184" y="495" width="3" height="41" fill="#c0c0c0"/>
<rect x="188" y="498" width="3" height="38" fill="#c0c0c0"/>
<rect x="192" y="500" width="3" height="36" fill="#c0c0c0"/>
<rect x="196" y="502" width="3" height="34" fill="#c0c0c0"/>
<rect x="200" y="502" width="3" height="34" fill="#c0c0c0"/>
<rect x="204" y="505" width="3" height="31" fill="#c0c0c0"/>
<rect x="208" y="508" width="3" height="28" fill="#c0c0c0"/>
<rect x="212" y="511" width="3" height="25" fill="#c0c0c0"/>
<rect x="216" y="513" width="3" height="23" fill="#c0c0c0"/>
<rect x="220" y="513" width="3" height="23" fill="#c0c0c0"/>
<rect x="224" y="513" width="3" height="23" fill="#c0c0c0"/>
<rect x="228" y="515" width="3" height="21" fill="#c0c0c0"/>
<rect x="232" y="517" width="3" height="19" fill="#c0c0c0"/>
<rect x="236" y="519" width="3" height="17" fill="#c0c0c0"/>
<rect x="240" y="519" width="3" height="17" fill="#c0c0c0"/>
<rect x="244" y="522" width="3" height="14" fill="#c0c0c0"/>
<rect x="248" y="525" width="3" height="11" fill="#c0c0c0"/>
<rect x="252" y="527" width="3" height="9" fill="#c0c0c0"/>
<rect x="256" y="531" width="3" height="5" fill="#c0c0c0"/>
<rect x="260" y="534" width="3" height="2" fill="#c0c0c0"/>
<rect x="264" y="536" width="3" height="4" fill="#c0c0c0"/>
<rect x="268" y="536" width="3" height="6" fill="#c0c0c0"/>
<rect x="272" y="536" width="3" height="8" fill="#c0c0c0"/>
<rect x="276" y="536" width="3" height="7" fill="#c0c0c0"/>
<rect x="280" y="536" width="3" height="6" fill="#c0c0c0"/>
<rect x="284" y="536" width="3" height="3" fill="#c0c0c0"/>
<rect x="288" y="536" width="3" height="1" fill="#c0c0c0"/>
<rect x="292" y="533" width="3" height="3" fill="#c0c0c0"/>
<rect x="296" y="530" width="3" height="6" fill="#c0c0c0"/>
<rect x="300" y="528" width="3" height="8" fill="#c0c0c0"/>
<rect x="304" y="527" width="3" height="9" fill="#c0c0c0"/>
<rect x="308" y="524" width="3" height="12" fill="#c0c0c0"/>
<rect x="312" y="523" width="3" height="13" fill="#c0c0c0"/>
<rect x="316" y="524" width="3" height="12" fill="#c0c0c0"/>
<rect x="320" y="524" width="3" height="12" fill="#c0c0c0"/>
<rect x="324" y="520" width="3" height="16" fill="#c0c0c0"/>
<rect x="328" y="516" width="3" height="20" fill="#c0c0c0"/>
<rect x="332" y="512" width="3" height="24" fill="#c0c0c0"/>
<rect x="336" y="509" width="3" height="27" fill="#c0c0c0"/>
<rect x="340" y="507" width="3" height="29" fill="#c0c0c0"/>
<rect x="344" y="504" width="3" height="32" fill="#c0c0c0"/>
<rect x="348" y="510" width="3" height="26" fill="#c0c0c0"/>
<rect x="352" y="517" width="3" height="19" fill="#c0c0c0"/>
<rect x="356" y="520" width="3" height="16" fill="#c0c0c0"/>
<rect x="360" y="521" width="3" height="15" fill="#c0c0c0"/>
<rect x="364" y="522" width="3" height="14" fill="#c0c0c0"/>
<rect x="368" y="524" width="3" height="12" fill="#c0c0c0"/>
<rect x="372" y="530" width="3" height="6" fill="#c0c0c0"/>
<rect x="376" y="535" width="3" height="1" fill="#c0c0c0"/>
<rect x="380" y="536" width="3" height="4" fill="#c0c0c0"/>
<rect x="384" y="536" width="3" height="6" fill="#c0c0c0"/>
<rect x="388" y="536" width="3" height="7" fill="#c0c0c0"/>
<rect x="392" y="536" width="3" height="6" fill="#c0c0c0"/>
<rect x="396" y="536" width="3" height="5" fill="#c0c0c0"/>
<rect x="400" y="536" width="3" height="4" fill="#c0c0c0"/>
<rect x="404" y="536" width="3" height="5" fill="#c0c0c0"/>
<rect x="408" y="536" width="3" height="5" fill="#c0c0c0"/>
<rect x="412" y="536" width="3" height="6" fill="#c0c0c0"/>
<rect x="416" y="536" width="3" height="3" fill="#c0c0c0"/>
<rect x="420" y="536" width="3" height="3" fill="#c0c0c0"/>
<rect x="424" y="536" width="3" height="3" fill="#c0c0c0"/>
<rect x="428" y="536" width="3" height="4" fill="#c0c0c0"/>
<rect x="432" y="536" width="3" height="5" fill="#c0c0c0"/>
<rect x="436" y="536" width="3" height="10" fill="#c0c0c0"/>
<rect x="440" y="536" width="3" height="15" fill="#c0c0c0"/>
<rect x="444" y="536" width="3" height="17" fill="#c0c0c0"/>
<rect x="448" y="536" width="3" height="19" fill="#c0c0c0"/>
<rect x="452" y="536" width="3" height="19" fill="#c0c0c0"/>
<rect x="456" y="536" width="3" height="20" fill="#c0c0c0"/>
<rect x="460" y="536" width="3" height="21" fill="#c0c0c0"/>
<rect x="464" y="536" width="3" height="21" fill="#c0c0c0"/>
<rect x="468" y="536" width="3" height="21" fill="#c0c0c0"/>
<rect x="472" y="536" width="3" height="21" fill="#c0c0c0"/>
<rect x="476" y="536" width="3" height="19" fill="#c0c0c0"/>
<rect x="480" y="536" width="3" height="17" fill="#c0c0c0"/>
<rect x="484" y="536" width="3" height="16" fill="#c0c0c0"/>
<rect x="488" y="536" width="3" height="15" fill="#c0c0c0"/>
<rect x="492" y="536" width="3" height="15" fill="#c0c0c0"/>
<rect x="496" y="536" width="3" height="14" fill="#c0c0c0"/>
<rect x="500" y="536" width="3" height="14" fill="#c0c0c0"/>
<rect x="504" y="536" width="3" height="13" fill="#c0c0c0"/>
<rect x="508" y="536" width="3" height="8" fill="#c0c0c0"/>
<rect x="512" y="536" width="3" height="4" fill="#c0c0c0"/>
<rect x="516" y="536" width="3" height="1" fill="#c0c0c0"/>
<rect x="520" y="533" width="3" height="3" fill="#c0c0c0"/>
<rect x="524" y="530" width="3" height="6" fill="#c0c0c0"/>
<rect x="528" y="529" width="3" height="7" fill="#c0c0c0"/>
<rect x="532" y="527" width="3" height="9" fill="#c0c0c0"/>
<rect x="536" y="527" width="3" height="9" fill="#c0c0c0"/>
<rect x="540" y="527" width="3" height="9" fill="#c0c0c0"/>
<rect x="544" y="526" width="3" height="10" fill="#c0c0c0"/>
<rect x="548" y="524" width="3" height="12" fill="#c0c0c0"/>
<rect x="552" y="523" width="3" height="13" fill="#c0c0c0"/>
<rect x="556" y="523" width="3" height="13" fill="#c0c0c0"/>
<rect x="560" y="523" width="3" height="13" fill="#c0c0c0"/>
<rect x="564" y="526" width="3" height="10" fill="#c0c0c0"/>
<rect x="568" y="528" width="3" height="8" fill="#c0c0c0"/>
<rect x="572" y="528" width="3" height="8" fill="#c0c0c0"/>
<rect x="576" y="530" width="3" height="6" fill="#c0c0c0"/>
<rect x="580" y="530" width="3" height="6" fill="#c0c0c0"/>
<rect x="584" y="529" width="3" height="7" fill="#c0c0c0"/>
<rect x="588" y="525" width="3" height="11" fill="#c0c0c0"/>
<rect x="592" y="522" width="3" height="14" fill="#c0c0c0"/>
<rect x="596" y="519" width="3" height="17" fill="#c0c0c0"/>
<rect x="600" y="518" width="3" height="18" fill="#c0c0c0"/>
<rect x="604" y="522" width="3" height="14" fill="#c0c0c0"/>
<rect x="608" y="525" width="3" height="11" fill="#c0c0c0"/>
<rect x="612" y="526" width="3" height="10" fill="#c0c0c0"/>
<rect x="616" y="527" width="3" height="9" fill="#c0c0c0"/>
<rect x="620" y="528" width="3" height="8" fill="#c0c0c0"/>
<rect x="624" y="528" width="3" height="8" fill="#c0c0c0"/>
<rect x="628" y="530" width="3" height="6" fill="#c0c0c0"/>
<rect x="632" y="530" width="3" height="6" fill="#c0c0c0"/>
<rect x="636" y="532" width="3" height="4" fill="#c0c0c0"/>
<rect x="640" y="534" width="3" height="2" fill="#c0c0c0"/>
<rect x="644" y="535" width="3" height="1" fill="#c0c0c0"/>
<rect x="648" y="536" width="3" height="1" fill="#c0c0c0"/>
<rect x="652" y="536" width="3" height="2" fill="#c0c0c0"/>
<rect x="656" y="536" width="3" height="2" fill="#c0c0c0"/>
<rect x="660" y="536" width="3" height="4" fill="#c0c0c0"/>
<rect x="664" y="536" width="3" height="5" fill="#c0c0c0"/>
<rect x="668" y="536" width="3" height="5" fill="#c0c0c0"/>
<rect x="672" y="536" width="3" height="4" fill="#c0c0c0"/>
<rect x="676" y="536" width="3" height="3" fill="#c0c0c0"/>
<rect x="680" y="536" width="3" height="7" fill="#c0c0c0"/>
<rect x="684" y="536" width="3" height="6" fill="#c0c0c0"/>
<rect x="688" y="536" width="3" height="5" fill="#c0c0c0"/>
<rect x="692" y="536" width="3" height="4" fill="#c0c0c0"/>
<rect x="696" y="536" width="3" height="4" fill="#c0c0c0"/>
<rect x="700" y="536" width="3" height="3" fill="#c0c0c0"/>
<rect x="704" y="536" width="3" height="3" fill="#c0c0c0"/>
<rect x="708" y="536" width="3" height="4" fill="#c0c0c0"/>
<rect x="712" y="536" width="3" height="5" fill="#c0c0c0"/>
<rect x="716" y="536" width="3" height="5" fill="#c0c0c0"/>
<rect x="720" y="536" width="3" height="8" fill="#c0c0c0"/>
<rect x="724" y="536" width="3" height="6" fill="#c0c0c0"/>
<rect x="728" y="536" width="3" height="14" fill="#c0c0c0"/>
<rect x="732" y="536" width="3" height="21" fill="#c0c0c0"/>
<rect x="736" y="536" width="3" height="26" fill="#c0c0c0"/>
<rect x="740" y="536" width="3" height="29" fill="#c0c0c0"/>
<rect x="744" y="536" width="3" height="31" fill="#c0c0c0"/>
<rect x="748" y="536" width="3" height="29" fill="#c0c0c0"/>
<rect x="752" y="536" width="3" height="28" fill="#c0c0c0"/>
<rect x="756" y="536" width="3" height="27" fill="#c0c0c0"/>
<rect x="760" y="536" width="3" height="26" fill="#c0c0c0"/>
<rect x="764" y="536" width="3" height="24" fill="#c0c0c0"/>
<rect x="768" y="536" width="3" height="26" fill="#c0c0c0"/>
<rect x="772" y="536" width="3" height="28" fill="#c0c0c0"/>
<rect x="776" y="536" width="3" height="30" fill="#c0c0c0"/>
<rect x="780" y="536" width="3" height="30" fill="#c0c0c0"/>
<rect x="784" y="536" width="3" height="28" fill="#c0c0c0"/>
<rect x="788" y="536" width="3" height="27" fill="#c0c0c0"/>
<rect x="792" y="536" width="3" height="27" fill="#c0c0c0"/>
<rect x="796" y="536" width="3" height="27" fill="#c0c0c0"/>
<rect x="800" y="536" width="3" height="29" fill="#c0c0c0"/>
<rect x="804" y="536" width="3" height="28" fill="#c0c0c0"/>
<rect x="808" y="536" width="3" height="28" fill="#c0c0c0"/>
<rect x="812" y="536" width="3" height="25" fill="#c0c0c0"/>
<rect x="816" y="536" width="3" height="25" fill="#c0c0c0"/>
<rect x="820" y="536" width="3" height="24" fill="#c0c0c0"/>
<rect x="824" y="536" width="3" height="25" fill="#c0c0c0"/>
<rect x="828" y="536" width="3" height="27" fill="#c0c0c0"/>
<rect x="832" y="536" width="3" height="28" fill="#c0c0c0"/>
<rect x="836" y="536" width="3" height="31" fill="#c0c0c0"/>
<rect x="840" y="536" width="3" height="33" fill="#c0c0c0"/>
<rect x="844" y="536" width="3" height="34" fill="#c0c0c0"/>
<rect x="848" y="536" width="3" height="33" fill="#c0c0c0"/>
<rect x="852" y="536" width="3" height="33" fill="#c0c0c0"/>
<rect x="856" y="536" width="3" height="32" fill="#c0c0c0"/>
<rect x="860" y="536" width="3" height="30" fill="#c0c0c0"/>
<rect x="864" y="536" width="3" height="29" fill="#c0c0c0"/>
<rect x="868" y="536" width="3" height="29" fill="#c0c0c0"/>
<rect x="872" y="536" width="3" height="26" fill="#c0c0c0"/>
<rect x="876" y="536" width="3" height="26" fill="#c0c0c0"/>
<rect x="880" y="536" width="3" height="26" fill="#c0c0c0"/>
<rect x="884" y="536" width="3" height="24" fill="#c0c0c0"/>
<rect x="888" y="536" width="3" height="22" fill="#c0c0c0"/>
<rect x="892" y="536" width="3" height="20" fill="#c0c0c0"/>
<rect x="896" y="536" width="3" height="17" fill="#c0c0c0"/>
<rect x="900" y="536" width="3" height="17" fill="#c0c0c0"/>
<rect x="904" y="536" width="3" height="17" fill="#c0c0c0"/>
<rect x="908" y="536" width="3" height="17" fill="#c0c0c0"/>
<rect x="912" y="536" width="3" height="17" fill="#c0c0c0"/>
<rect x="916" y="536" width="3" height="16" fill="#c0c0c0"/>
<rect x="920" y="536" width="3" height="15" fill="#c0c0c0"/>
<rect x="924" y="536" width="3" height="15" fill="#c0c0c0"/>
<path d="M5 520h1v1h-1zM6 519h2v1h-2zM8 518h2v1h-2zM10 517h2v1h-2zM12 516h5v1h-5zM17 515h15v1h-15zM32 514h6v1h-6zM38 513h9v1h-9zM47 512h15v1h-15zM62 511h6v1h-6zM68 510h6v1h-6zM74 509h17v1h-17zM91 508h3v1h-3zM94 507h3v1h-3zM97 506h3v1h-3zM100 505h5v1h-5zM105 504h4v1h-4zM109 503h4v1h-4zM113 502h3v1h-3zM116 501h2v1h-2zM118 500h10v1h-10zM128 499h9v1h-9zM137 500h9v1h-9zM146 501h2v1h-2zM148 502h1v1h-1zM149 503h18v1h-18zM167 502h3v1h-3zM170 501h4v1h-4zM174 500h3v1h-3zM177 499h4v1h-4zM181 498h4v1h-4zM185 497h16v1h-16zM201 498h4v1h-4zM205 499h3v1h-3zM208 500h2v1h-2zM210 501h2v1h-2zM212 502h2v1h-2zM214 503h2v1h-2zM216 504h2v1h-2zM218 505h2v1h-2zM220 506h3v1h-3zM223 507h2v1h-2zM225 508h3v1h-3zM228 509h3v1h-3zM231 510h2v1h-2zM233 511h3v1h-3zM236 512h2v1h-2zM238 513h3v1h-3zM241 514h3v1h-3zM244 515h3v1h-3zM247 516h3v1h-3zM250 517h2v1h-2zM252 518h2v1h-2zM254 519h2v1h-2zM256 520h2v1h-2zM258 521h2v1h-2zM260 522h1v1h-1zM261 523h2v1h-2zM263 524h1v1h-1zM264 525h2v1h-2zM266 526h1v1h-1zM267 527h2v1h-2zM269 528h1v1h-1zM270 529h2v1h-2zM272 530h1v1h-1zM273 531h2v1h-2zM275 532h1v1h-1zM276 533h2v1h-2zM278 534h2v1h-2zM280 535h2v1h-2zM282 536h3v1h-3zM285 537h3v1h-3zM288 538h11v1h-11zM299 537h3v1h-3zM302 536h2v1h-2zM304 535h1v1h-1zM305 534h2v1h-2zM307 533h1v1h-1zM308 532h1v2h-1zM309 532h2v1h-2zM311 531h2v1h-2zM313 530h2v1h-2zM315 529h4v1h-4zM319 528h3v1h-3zM322 527h2v1h-2zM324 526h2v1h-2zM326 525h2v1h-2zM328 524h1v1h-1zM329 523h2v1h-2zM331 522h2v1h-2zM333 521h2v1h-2zM335 520h2v1h-2zM337 519h2v1h-2zM339 518h2v1h-2zM341 517h2v1h-2zM343 516h1v1h-1zM344 515h2v1h-2zM346 514h3v1h-3zM349 513h16v1h-16zM365 514h3v1h-3zM368 515h3v1h-3zM371 516h1v1h-1zM372 517h2v1h-2zM374 518h1v1h-1zM375 519h1v1h-1zM376 520h1v1h-1zM377 521h2v1h-2zM379 522h1v1h-1zM380 523h1v1h-1zM381 524h1v1h-1zM382 525h1v1h-1zM383 526h1v1h-1zM384 527h2v1h-2zM386 528h1v1h-1zM387 529h2v1h-2zM389 530h2v1h-2zM391 531h1v1h-1zM392 532h2v1h-2zM394 533h2v1h-2zM396 534h1v1h-1zM397 535h2v1h-2zM399 536h1v1h-1zM400 536h1v2h-1zM401 537h2v1h-2zM403 538h2v1h-2zM405 539h3v1h-3zM408 540h15v1h-15zM423 539h14v1h-14zM437 540h4v1h-4zM441 541h3v1h-3zM444 542h3v1h-3zM447 543h2v1h-2zM449 544h3v1h-3zM452 545h2v1h-2zM454 546h1v1h-1zM455 547h2v1h-2zM457 548h3v1h-3zM460 549h2v1h-2zM462 550h2v1h-2zM464 551h2v1h-2zM466 552h3v1h-3zM469 553h3v1h-3zM472 554h3v1h-3zM475 555h9v1h-9zM484 554h5v1h-5zM489 553h9v1h-9zM498 552h4v1h-4zM502 551h5v1h-5zM507 550h1v2h-1zM508 550h1v1h-1zM509 549h2v1h-2zM511 548h2v1h-2zM513 547h2v1h-2zM515 546h2v1h-2zM517 545h2v1h-2zM519 544h2v1h-2zM521 543h2v1h-2zM523 542h2v1h-2zM525 541h2v1h-2zM527 540h2v1h-2zM529 539h1v1h-1zM530 538h2v1h-2zM532 537h2v1h-2zM534 536h2v1h-2zM536 535h1v1h-1zM537 534h2v1h-2zM539 533h2v1h-2zM541 532h1v1h-1zM542 531h2v1h-2zM544 530h2v1h-2zM546 529h2v1h-2zM548 528h2v1h-2zM550 527h3v1h-3zM553 526h4v1h-4zM557 525h19v1h-19zM576 526h7v1h-7zM583 527h11v1h-11zM594 526h4v1h-4zM598 525h5v1h-5zM603 524h16v1h-16zM619 523h7v1h-7zM626 524h3v1h-3zM629 525h4v1h-4zM633 526h3v1h-3zM636 527h2v1h-2zM638 528h3v1h-3zM641 529h4v1h-4zM645 530h4v1h-4zM649 531h5v1h-5zM654 532h2v1h-2zM656 533h3v1h-3zM659 534h3v1h-3zM662 535h2v1h-2zM664 536h4v1h-4zM668 537h4v1h-4zM672 538h7v1h-7zM679 539h8v1h-8zM687 540h14v1h-14zM701 539h11v1h-11zM712 540h17v1h-17zM729 541h2v1h-2zM731 542h2v1h-2zM733 543h2v1h-2zM735 544h2v1h-2zM737 545h1v1h-1zM738 546h2v1h-2zM740 547h1v1h-1zM741 548h2v1h-2zM743 549h1v1h-1zM744 550h1v1h-1zM745 551h2v1h-2zM747 552h1v1h-1zM748 553h1v1h-1zM749 554h2v1h-2zM751 555h2v1h-2zM753 556h2v1h-2zM755 557h2v1h-2zM757 558h2v1h-2zM759 559h2v1h-2zM761 560h2v1h-2zM763 561h2v1h-2zM765 562h35v1h-35zM800 563h13v1h-13zM813 562h4v1h-4zM817 561h20v1h-20zM837 562h7v1h-7zM844 563h3v1h-3zM847 564h3v1h-3zM850 565h5v1h-5zM855 566h13v1h-13zM868 567h4v1h-4zM872 566h3v1h-3zM875 565h4v1h-4zM879 564h3v1h-3zM882 563h4v1h-4zM886 562h4v1h-4zM890 561h3v1h-3zM893 560h2v1h-2zM895 559h3v1h-3zM898 558h3v1h-3zM901 557h4v1h-4zM905 556h4v1h-4zM909 555h4v1h-4zM913 554h4v1h-4zM917 553h5v1h-5zM922 552h3v1h-3z" fill="#ff0000"/>
<line x1="6" y1="602.5" x2="1167" y2="602.5" stroke="#c0c0c0" stroke-width="1" stroke-dasharray="3,3"/>
<line x1="6" y1="636.5" x2="1167" y2="636.5" stroke="#c0c0c0" stroke-width="1" stroke-dasharray="3,3"/>
<path d="M5 605h1v1h-1zM6 606h2v1h-2zM8 607h3v1h-3zM11 606h2v1h-2zM13 606h1v2h-1zM14 608h1v1h-1zM15 609h1v2h-1zM16 611h1v1h-1zM17 612h1v2h-1zM18 612h2v1h-2zM20 611h1v1h-1zM21 610h5v1h-5zM26 611h1v1h-1zM27 612h1v1h-1zM28 613h1v1h-1zM29 614h1v1h-1zM30 613h1v1h-1zM31 612h1v1h-1zM32 610h1v2h-1zM33 608h1v2h-1zM34 608h5v1h-5zM39 607h4v1h-4zM43 606h2v1h-2zM45 605h2v1h-2zM47 606h3v1h-3zM50 607h2v1h-2zM52 608h2v1h-2zM54 609h1v1h-1zM55 610h2v1h-2zM57 611h1v1h-1zM58 610h1v1h-1zM59 609h1v1h-1zM60 608h1v1h-1zM61 607h1v1h-1zM62 606h1v1h-1zM63 605h1v1h-1zM64 604h1v1h-1zM65 602h1v2h-1zM66 603h1v1h-1zM67 604h2v1h-2zM69 605h2v1h-2zM71 604h7v1h-7zM78 605h1v1h-1zM79 606h1v2h-1zM80 608h1v1h-1zM81 609h1v1h-1zM82 608h1v1h-1zM83 607h1v1h-1zM84 606h1v1h-1zM85 605h1v1h-1zM86 604h1v1h-1zM87 603h1v1h-1zM88 602h1v1h-1zM89 601h1v1h-1zM90 600h8v1h-8zM98 599h9v1h-9zM107 598h3v1h-3zM110 597h1v1h-1zM111 596h1v1h-1zM112 595h1v1h-1zM113 594h2v1h-2zM115 595h2v1h-2zM117 596h4v1h-4zM121 596h1v2h-1zM122 598h1v3h-1zM123 601h1v3h-1zM124 604h1v2h-1zM125 606h1v2h-1zM126 608h1v1h-1zM127 609h1v2h-1zM128 611h1v1h-1zM129 612h1v1h-1zM130 610h1v2h-1zM131 609h1v1h-1zM132 608h1v1h-1zM133 607h2v1h-2zM135 606h7v1h-7zM142 607h1v1h-1zM143 608h1v1h-1zM144 609h1v2h-1zM145 610h1v1h-1zM146 609h1v1h-1zM147 608h1v1h-1zM148 606h1v2h-1zM149 605h1v1h-1zM150 604h1v1h-1zM151 603h1v1h-1zM152 602h1v1h-1zM153 601h2v1h-2zM155 600h1v1h-1zM156 599h2v1h-2zM158 600h1v1h-1zM159 601h1v1h-1zM160 602h1v1h-1zM161 602h1v2h-1zM162 603h1v1h-1zM163 604h3v1h-3zM166 603h2v1h-2zM168 602h1v1h-1zM169 601h1v1h-1zM170 600h2v1h-2zM172 599h2v1h-2zM174 600h2v1h-2zM176 601h3v1h-3zM179 600h3v1h-3zM182 601h1v2h-1zM183 603h1v1h-1zM184 604h1v1h-1zM185 605h1v1h-1zM186 606h1v2h-1zM187 608h1v2h-1zM188 610h1v2h-1zM189 612h1v1h-1zM190 611h1v1h-1zM191 610h2v1h-2zM193 609h2v1h-2zM195 608h2v1h-2zM197 607h2v1h-2zM199 606h2v1h-2zM201 607h1v1h-1zM202 608h1v2h-1zM203 610h1v2h-1zM204 612h1v2h-1zM205 614h2v1h-2zM207 613h3v1h-3zM210 614h1v1h-1zM211 615h2v1h-2zM213 616h1v1h-1zM214 615h2v1h-2zM216 614h1v1h-1zM217 613h2v1h-2zM219 612h2v1h-2zM221 611h1v1h-1zM222 610h2v1h-2zM224 609h1v1h-1zM225 610h1v1h-1zM226 611h1v1h-1zM227 612h1v1h-1zM228 613h1v1h-1zM229 614h3v1h-3zM232 615h5v1h-5zM237 615h1v2h-1zM238 614h2v1h-2zM240 613h1v1h-1zM241 612h1v1h-1zM242 613h1v2h-1zM243 615h1v1h-1zM244 616h1v2h-1zM245 618h1v2h-1zM246 619h1v1h-1zM247 620h2v1h-2zM249 621h2v1h-2zM251 620h3v1h-3zM254 621h1v1h-1zM255 622h1v1h-1zM256 623h1v1h-1zM257 624h2v1h-2zM259 625h2v1h-2zM261 626h2v1h-2zM263 627h1v1h-1zM264 628h1v1h-1zM265 629h1v1h-1zM266 628h1v1h-1zM267 627h1v1h-1zM268 626h1v1h-1zM269 625h4v1h-4zM273 626h1v1h-1zM274 624h1v2h-1zM275 623h1v1h-1zM276 621h1v2h-1zM277 619h1v2h-1zM278 619h1v1h-1zM279 618h3v1h-3zM282 617h1v1h-1zM283 616h1v1h-1zM284 615h1v1h-1zM285 614h1v1h-1zM286 613h4v1h-4zM290 612h3v1h-3zM293 611h2v1h-2zM295 610h2v1h-2zM297 609h2v1h-2zM299 610h2v1h-2zM301 611h2v1h-2zM303 610h2v1h-2zM305 609h3v1h-3zM308 608h4v1h-4zM312 609h2v1h-2zM314 610h1v2h-1zM315 612h1v1h-1zM316 613h1v2h-1zM317 615h2v1h-2zM319 614h2v1h-2zM321 613h1v1h-1zM322 611h1v2h-1zM323 609h1v2h-1zM324 606h1v3h-1zM325 604h1v2h-1zM326 604h1v1h-1zM327 603h3v1h-3zM330 602h2v1h-2zM332 601h7v1h-7zM339 600h2v1h-2zM341 599h2v1h-2zM343 598h1v1h-1zM344 597h1v1h-1zM345 598h1v1h-1zM346 599h1v6h-1zM347 605h1v7h-1zM348 612h1v6h-1zM349 618h1v4h-1zM350 622h2v1h-2zM352 623h1v1h-1zM353 624h1v1h-1zM354 622h1v2h-1zM355 621h1v1h-1zM356 619h1v2h-1zM357 618h1v1h-1zM358 617h2v1h-2zM360 616h7v1h-7zM367 617h2v1h-2zM369 617h1v2h-1zM370 619h1v3h-1zM371 622h1v2h-1zM372 624h1v2h-1zM373 626h1v2h-1zM374 626h2v1h-2zM376 625h2v1h-2zM378 626h4v1h-4zM382 625h1v1h-1zM383 624h2v1h-2zM385 623h2v1h-2zM387 622h2v1h-2zM389 621h1v2h-1zM390 620h2v1h-2zM392 619h1v1h-1zM393 618h3v1h-3zM396 619h2v1h-2zM398 618h4v1h-4zM402 619h1v1h-1zM403 620h2v1h-2zM405 621h1v1h-1zM406 620h2v1h-2zM408 619h2v1h-2zM410 620h1v1h-1zM411 621h1v1h-1zM412 622h1v1h-1zM413 622h1v2h-1zM414 620h1v2h-1zM415 618h1v2h-1zM416 616h1v2h-1zM417 615h1v1h-1zM418 616h1v1h-1zM419 617h1v1h-1zM420 618h1v1h-1zM421 619h9v1h-9zM430 620h1v1h-1zM431 621h1v1h-1zM432 622h1v2h-1zM433 624h1v2h-1zM434 625h1v1h-1zM435 626h1v1h-1zM436 627h1v1h-1zM437 628h1v1h-1zM438 629h1v1h-1zM439 630h1v1h-1zM440 631h1v1h-1zM441 632h1v1h-1zM442 630h1v2h-1zM443 629h1v1h-1zM444 627h1v2h-1zM445 626h3v1h-3zM448 627h1v1h-1zM449 626h3v1h-3zM452 625h3v1h-3zM455 626h2v1h-2zM457 627h9v1h-9zM466 626h1v2h-1zM467 626h6v1h-6zM473 627h1v1h-1zM474 625h1v2h-1zM475 624h1v1h-1zM476 623h1v1h-1zM477 621h1v2h-1zM478 620h4v1h-4zM482 621h1v1h-1zM483 622h1v1h-1zM484 623h1v1h-1zM485 624h1v1h-1zM486 623h2v1h-2zM488 622h4v1h-4zM492 623h4v1h-4zM496 624h6v1h-6zM502 623h3v1h-3zM505 622h1v1h-1zM506 619h1v3h-1zM507 616h1v3h-1zM508 613h1v3h-1zM509 611h1v2h-1zM510 611h1v1h-1zM511 610h4v1h-4zM515 611h2v1h-2zM517 612h5v1h-5zM522 611h1v1h-1zM523 610h2v1h-2zM525 609h1v1h-1zM526 610h2v1h-2zM528 611h1v1h-1zM529 612h1v1h-1zM530 611h2v1h-2zM532 610h2v1h-2zM534 611h1v1h-1zM535 612h1v2h-1zM536 614h1v1h-1zM537 615h1v1h-1zM538 614h2v1h-2zM540 613h2v1h-2zM542 612h2v1h-2zM544 611h2v1h-2zM546 610h1v1h-1zM547 609h1v1h-1zM548 608h1v1h-1zM549 607h1v1h-1zM550 608h1v1h-1zM551 609h1v1h-1zM552 610h1v1h-1zM553 611h3v1h-3zM556 612h5v1h-5zM561 613h1v1h-1zM562 614h1v2h-1zM563 616h1v1h-1zM564 617h1v2h-1zM565 619h1v2h-1zM566 620h2v1h-2zM568 621h1v1h-1zM569 620h1v2h-1zM570 619h1v1h-1zM571 617h1v2h-1zM572 615h1v2h-1zM573 614h1v2h-1zM574 616h1v2h-1zM575 618h1v2h-1zM576 620h1v2h-1zM577 622h1v2h-1zM578 621h1v1h-1zM579 619h1v2h-1zM580 617h1v2h-1zM581 616h1v1h-1zM582 615h2v1h-2zM584 614h2v1h-2zM586 612h1v2h-1zM587 611h1v1h-1zM588 609h1v2h-1zM589 607h1v2h-1zM590 607h1v1h-1zM591 608h2v1h-2zM593 609h1v1h-1zM594 608h2v1h-2zM596 607h2v1h-2zM598 608h2v1h-2zM600 609h1v1h-1zM601 610h1v2h-1zM602 612h1v3h-1zM603 615h1v3h-1zM604 618h1v2h-1zM605 620h1v2h-1zM606 621h2v1h-2zM608 622h1v1h-1zM609 621h1v2h-1zM610 620h1v1h-1zM611 619h1v1h-1zM612 618h1v1h-1zM613 617h1v1h-1zM614 616h5v1h-5zM619 617h2v1h-2zM621 618h1v1h-1zM622 617h4v1h-4zM626 618h1v1h-1zM627 619h2v1h-2zM629 620h1v1h-1zM630 619h1v1h-1zM631 618h1v1h-1zM632 617h2v1h-2zM634 618h1v1h-1zM635 619h1v1h-1zM636 620h1v2h-1zM637 622h6v1h-6zM643 621h8v1h-8zM651 620h5v1h-5zM656 621h2v1h-2zM658 622h1v1h-1zM659 623h1v1h-1zM660 624h1v1h-1zM661 625h3v1h-3zM664 624h2v1h-2zM666 623h1v1h-1zM667 622h1v1h-1zM668 621h1v1h-1zM669 620h1v1h-1zM670 619h1v1h-1zM671 618h1v1h-1zM672 617h4v1h-4zM676 618h1v1h-1zM677 619h1v1h-1zM678 620h1v3h-1zM679 623h1v3h-1zM680 626h1v2h-1zM681 628h1v2h-1zM682 626h1v2h-1zM683 624h1v2h-1zM684 621h1v3h-1zM685 619h1v2h-1zM686 619h4v1h-4zM690 618h2v1h-2zM692 617h4v1h-4zM696 618h2v1h-2zM698 619h2v1h-2zM700 620h2v1h-2zM702 619h2v1h-2zM704 618h2v1h-2zM706 619h1v1h-1zM707 620h1v2h-1zM708 622h1v1h-1zM709 623h1v2h-1zM710 624h1v1h-1zM711 623h2v1h-2zM713 622h2v1h-2zM715 621h3v1h-3zM718 622h1v1h-1zM719 623h1v1h-1zM720 624h1v1h-1zM721 625h1v1h-1zM722 624h1v1h-1zM723 623h1v1h-1zM724 622h1v1h-1zM725 621h1v2h-1zM726 623h1v3h-1zM727 626h1v3h-1zM728 629h1v3h-1zM729 632h1v2h-1zM730 633h1v1h-1zM731 634h1v1h-1zM732 635h1v1h-1zM733 636h5v1h-5zM738 635h1v1h-1zM739 634h1v1h-1zM740 633h6v1h-6zM746 631h1v2h-1zM747 630h1v1h-1zM748 628h1v2h-1zM749 626h1v2h-1zM750 626h2v1h-2zM752 627h2v1h-2zM754 626h2v1h-2zM756 625h1v1h-1zM757 624h4v1h-4zM761 625h4v1h-4zM765 626h1v1h-1zM766 627h1v1h-1zM767 628h1v2h-1zM768 630h1v1h-1zM769 631h3v1h-3zM772 632h3v1h-3zM775 633h2v1h-2zM777 634h1v1h-1zM778 633h1v1h-1zM779 632h1v1h-1zM780 631h1v1h-1zM781 630h1v1h-1zM782 629h1v1h-1zM783 628h1v1h-1zM784 627h1v1h-1zM785 626h5v1h-5zM790 627h2v1h-2zM792 628h1v1h-1zM793 629h3v1h-3zM796 630h2v1h-2zM798 631h1v1h-1zM799 632h1v1h-1zM800 633h1v1h-1zM801 633h1v2h-1zM802 632h1v1h-1zM803 630h1v2h-1zM804 629h1v1h-1zM805 628h2v1h-2zM807 627h10v1h-10zM817 628h3v1h-3zM820 629h3v1h-3zM823 630h1v1h-1zM824 631h2v1h-2zM826 632h2v1h-2zM828 633h2v1h-2zM830 634h3v1h-3zM833 635h1v1h-1zM834 636h1v1h-1zM835 637h1v1h-1zM836 638h1v1h-1zM837 639h2v1h-2zM839 640h3v1h-3zM842 638h1v2h-1zM843 637h1v1h-1zM844 636h1v1h-1zM845 634h1v2h-1zM846 634h1v1h-1zM847 633h10v1h-10zM857 632h1v2h-1zM858 632h1v1h-1zM859 631h1v1h-1zM860 630h1v1h-1zM861 629h2v1h-2zM863 630h2v1h-2zM865 631h2v1h-2zM867 632h2v1h-2zM869 632h1v2h-1zM870 630h1v2h-1zM871 628h1v2h-1zM872 626h1v2h-1zM873 624h1v2h-1zM874 626h1v1h-1zM875 627h1v1h-1zM876 628h1v1h-1zM877 629h2v1h-2zM879 630h2v1h-2zM881 631h1v1h-1zM882 629h1v2h-1zM883 628h1v1h-1zM884 627h1v1h-1zM885 625h1v2h-1zM886 625h1v1h-1zM887 624h1v1h-1zM888 623h4v1h-4zM892 624h2v1h-2zM894 623h1v1h-1zM895 622h1v1h-1zM896 621h1v1h-1zM897 620h1v1h-1zM898 621h1v1h-1zM899 622h1v2h-1zM900 624h1v2h-1zM901 626h6v1h-6zM907 627h2v1h-2zM909 628h2v1h-2zM911 627h3v1h-3zM914 626h1v1h-1zM915 624h1v2h-1zM916 623h1v1h-1zM917 622h1v1h-1zM918 623h1v1h-1zM919 624h1v1h-1zM920 625h1v1h-1zM921 626h4v1h-4z" fill="#1e90ff"/>
<rect x="1168" y="55" width="2" height="1" fill="#000"/>
<rect x="1168" y="88" width="2" height="1" fill="#000"/>
<rect x="1168" y="121" width="2" height="1" fill="#000"/>
<rect x="1168" y="154" width="2" height="1" fill="#000"/>
<rect x="1168" y="187" width="2" height="1" fill="#000"/>
<rect x="1168" y="220" width="2" height="1" fill="#000"/>
<rect x="1168" y="253" width="2" height="1" fill="#000"/>
<rect x="1168" y="286" width="2" height="1" fill="#000"/>
<rect x="1168" y="319" width="2" height="1" fill="#000"/>
<rect x="1168" y="352" width="2" height="1" fill="#000"/>
<rect x="1168" y="385" width="2" height="1" fill="#000"/>
<rect x="1168" y="418" width="2" height="1" fill="#000"/>
<rect x="1168" y="451" width="2" height="1" fill="#000"/>
<rect x="1168" y="484" width="2" height="1" fill="#000"/>
<rect x="1168" y="491" width="2" height="1" fill="#000"/>
<rect x="1168" y="536" width="2" height="1" fill="#000"/>
<rect x="1168" y="661" width="1" height="1" fill="#000"/>
<rect x="5" y="663" width="1" height="3" fill="#000"/>
<rect x="69" y="663" width="1" height="3" fill="#000"/>
<rect x="133" y="663" width="1" height="3" fill="#000"/>
<rect x="197" y="663" width="1" height="3" fill="#000"/>
<rect x="261" y="663" width="1" height="3" fill="#000"/>
<rect x="325" y="663" width="1" height="3" fill="#000"/>
<rect x="389" y="663" width="1" height="3" fill="#000"/>
<rect x="453" y="663" width="1" height="3" fill="#000"/>
<rect x="517" y="663" width="1" height="3" fill="#000"/>
<rect x="581" y="663" width="1" height="3" fill="#000"/>
<rect x="645" y="663" width="1" height="3" fill="#000"/>
<rect x="709" y="663" width="1" height="3" fill="#000"/>
<rect x="773" y="663" width="1" height="3" fill="#000"/>
<rect x="837" y="663" width="1" height="3" fill="#000"/>
<rect x="901" y="663" width="1" height="3" fill="#000"/>
<rect x="0" y="684" width="1207" height="1" fill="#e3e3e3"/>
<rect x="0" y="685" width="1207" height="1" fill="#000"/>
<rect x="0" y="686" width="1207" height="19" fill="#f0f0f0"/>
<rect x="0" y="705" width="1207" height="1" fill="#ffffff"/>
<rect x="0" y="706" width="1207" height="2" fill="#f0f0f0"/>
<rect x="0" y="686" width="2" height="18" fill="#a0a0a0"/>
<rect x="99" y="685" width="103" height="19" fill="#fff"/>
<rect x="98" y="685" width="1" height="19" fill="#000"/>
<rect x="201" y="685" width="1" height="19" fill="#000"/>
<rect x="98" y="703" width="104" height="1" fill="#000"/>
<rect x="290" y="689" width="1" height="13" fill="#808080"/>
<rect x="394" y="689" width="1" height="13" fill="#808080"/>
<rect x="498" y="689" width="1" height="13" fill="#808080"/>
<rect x="574" y="689" width="1" height="13" fill="#808080"/>
<rect x="642" y="689" width="1" height="13" fill="#808080"/>
<rect x="718" y="689" width="1" height="13" fill="#808080"/>
<rect x="810" y="689" width="1" height="13" fill="#808080"/>
<rect x="902" y="689" width="1" height="13" fill="#808080"/>
<g shape-rendering="auto" text-rendering="geometricPrecision">
<polygon points="1182.7,694 1186,690.8 1186,697.2" fill="#8c8c8c"/><polygon points="1205.3,694 1202,690.8 1202,697.2" fill="#8c8c8c"/>
<rect x="8.5" y="47.5" width="51" height="24" fill="url(#gt)" stroke="#c80000"/>
<rect x="8.5" y="71.5" width="108" height="32" fill="url(#gb)" stroke="#b00000"/>
<rect x="9" y="71" width="50" height="1" fill="#e03030"/>
<rect x="12" y="71" width="44" height="1" fill="#a80000"/>
<rect x="175.5" y="47.5" width="51" height="24" fill="url(#gt)" stroke="#c80000"/>
<rect x="119.5" y="71.5" width="107" height="32" fill="url(#gb)" stroke="#b00000"/>
<rect x="176" y="71" width="50" height="1" fill="#e03030"/>
<rect x="179" y="71" width="44" height="1" fill="#a80000"/>
<rect x="62.5" y="47.5" width="110" height="21" fill="#fff" stroke="#a8a8a8"/>
<rect x="63.5" y="48.5" width="19" height="19" fill="url(#gg)" stroke="#c8c8c8"/>
<rect x="152.5" y="48.5" width="19" height="19" fill="url(#gg)" stroke="#c8c8c8"/>
<polygon points="70,56 76,56 73,59.5" fill="#4a62c8"/>
<polygon points="159,59.5 165,59.5 162,56" fill="#4a62c8"/>
<text x="147.5" y="61.6" font-size="11.6" fill="#000" text-anchor="end" font-weight="normal" textLength="23" lengthAdjust="spacingAndGlyphs" >3.00</text>
<text x="20.4" y="63" font-size="12" fill="#ffecec" text-anchor="start" font-weight="normal" textLength="25" lengthAdjust="spacingAndGlyphs" >SELL</text>
<text x="188.8" y="63" font-size="12" fill="#ffecec" text-anchor="start" font-weight="normal" textLength="22" lengthAdjust="spacingAndGlyphs" >BUY</text>
<text x="27.9" y="99" font-size="12" fill="#fff" text-anchor="start" font-weight="bold" textLength="23.8" lengthAdjust="spacingAndGlyphs" >0.73</text>
<text x="137.9" y="99" font-size="12" fill="#fff" text-anchor="start" font-weight="bold" textLength="23.8" lengthAdjust="spacingAndGlyphs" >0.73</text>
<text x="54" y="99" font-size="33" fill="#fff" text-anchor="start" font-weight="normal" textLength="36" lengthAdjust="spacingAndGlyphs" >41</text>
<text x="165" y="99" font-size="33" fill="#fff" text-anchor="start" font-weight="normal" textLength="36" lengthAdjust="spacingAndGlyphs" >42</text>
<text x="95" y="83" font-size="11.5" fill="#fff" text-anchor="start" font-weight="bold" textLength="7" lengthAdjust="spacingAndGlyphs" >4</text>
<text x="206" y="83" font-size="11.5" fill="#fff" text-anchor="start" font-weight="bold" textLength="6.5" lengthAdjust="spacingAndGlyphs" >7</text>
<text x="1173" y="59" font-size="9.7" fill="#000" text-anchor="start" font-weight="normal" textLength="32.5" lengthAdjust="spacingAndGlyphs" >0.79975</text>
<text x="1173" y="92" font-size="9.7" fill="#000" text-anchor="start" font-weight="normal" textLength="32.5" lengthAdjust="spacingAndGlyphs" >0.79390</text>
<text x="1173" y="125" font-size="9.7" fill="#000" text-anchor="start" font-weight="normal" textLength="32.5" lengthAdjust="spacingAndGlyphs" >0.78805</text>
<text x="1173" y="158" font-size="9.7" fill="#000" text-anchor="start" font-weight="normal" textLength="32.5" lengthAdjust="spacingAndGlyphs" >0.78220</text>
<text x="1173" y="191" font-size="9.7" fill="#000" text-anchor="start" font-weight="normal" textLength="32.5" lengthAdjust="spacingAndGlyphs" >0.77635</text>
<text x="1173" y="224" font-size="9.7" fill="#000" text-anchor="start" font-weight="normal" textLength="32.5" lengthAdjust="spacingAndGlyphs" >0.77050</text>
<text x="1173" y="257" font-size="9.7" fill="#000" text-anchor="start" font-weight="normal" textLength="32.5" lengthAdjust="spacingAndGlyphs" >0.76465</text>
<text x="1173" y="290" font-size="9.7" fill="#000" text-anchor="start" font-weight="normal" textLength="32.5" lengthAdjust="spacingAndGlyphs" >0.75880</text>
<text x="1173" y="323" font-size="9.7" fill="#000" text-anchor="start" font-weight="normal" textLength="32.5" lengthAdjust="spacingAndGlyphs" >0.75295</text>
<text x="1173" y="356" font-size="9.7" fill="#000" text-anchor="start" font-weight="normal" textLength="32.5" lengthAdjust="spacingAndGlyphs" >0.74710</text>
<text x="1173" y="389" font-size="9.7" fill="#000" text-anchor="start" font-weight="normal" textLength="32.5" lengthAdjust="spacingAndGlyphs" >0.74140</text>
<text x="1173" y="422" font-size="9.7" fill="#000" text-anchor="start" font-weight="normal" textLength="32.5" lengthAdjust="spacingAndGlyphs" >0.73555</text>
<text x="1173" y="455" font-size="9.7" fill="#000" text-anchor="start" font-weight="normal" textLength="32.5" lengthAdjust="spacingAndGlyphs" >0.72970</text>
<text x="1173" y="488" font-size="9.7" fill="#000" text-anchor="start" font-weight="normal" textLength="32.5" lengthAdjust="spacingAndGlyphs" >0.72385</text>
<rect x="1169" y="206" width="38" height="11" fill="#ff0000"/><text x="1173" y="215" font-size="9.7" fill="#fff" text-anchor="start" font-weight="normal" textLength="32.5" lengthAdjust="spacingAndGlyphs" >0.77200</text>
<rect x="1169" y="290" width="38" height="11" fill="#ff0000"/><text x="1173" y="299" font-size="9.7" fill="#fff" text-anchor="start" font-weight="normal" textLength="32.5" lengthAdjust="spacingAndGlyphs" >0.75716</text>
<rect x="1169" y="386" width="38" height="11" fill="#00ff00"/><text x="1173" y="395" font-size="9.7" fill="#fff" text-anchor="start" font-weight="normal" textLength="32.5" lengthAdjust="spacingAndGlyphs" >0.74007</text>
<rect x="1169" y="421" width="38" height="11" fill="#000000"/><text x="1173" y="430" font-size="9.7" fill="#fff" text-anchor="start" font-weight="normal" textLength="32.5" lengthAdjust="spacingAndGlyphs" >0.73411</text>
<rect x="1169" y="476" width="38" height="11" fill="#0000ff"/><text x="1173" y="485" font-size="9.7" fill="#fff" text-anchor="start" font-weight="normal" textLength="32.5" lengthAdjust="spacingAndGlyphs" >0.72411</text>
<text x="1171" y="499.7" font-size="9.7" fill="#000" text-anchor="start" font-weight="normal" textLength="37.5" lengthAdjust="spacingAndGlyphs" >0.008903</text>
<text x="1171" y="540" font-size="9.7" fill="#000" text-anchor="start" font-weight="normal" textLength="17.8" lengthAdjust="spacingAndGlyphs" >0.00</text>
<text x="1171" y="570" font-size="9.7" fill="#000" text-anchor="start" font-weight="normal" textLength="35" lengthAdjust="spacingAndGlyphs" >-0.00697</text>
<text x="1171" y="586" font-size="9.7" fill="#000" text-anchor="start" font-weight="normal" textLength="14.8" lengthAdjust="spacingAndGlyphs" >100</text>
<text x="1170.5" y="605.8" font-size="9.7" fill="#000" text-anchor="start" font-weight="normal" textLength="9.6" lengthAdjust="spacingAndGlyphs" >70</text>
<text x="1170.5" y="639.8" font-size="9.7" fill="#000" text-anchor="start" font-weight="normal" textLength="9.6" lengthAdjust="spacingAndGlyphs" >30</text>
<text x="1171" y="658.8" font-size="9.7" fill="#000" text-anchor="start" font-weight="normal" textLength="4.7" lengthAdjust="spacingAndGlyphs" >0</text>
<polygon points="8,38.5 15,38.5 11.5,34" fill="#000"/>
<text x="20.6" y="39" font-size="9.7" fill="#000" text-anchor="start" font-weight="normal" textLength="65" lengthAdjust="spacingAndGlyphs" >AUDUSD,Daily</text>
<text x="91.9" y="39" font-size="9.7" fill="#000" text-anchor="start" font-weight="normal" textLength="140.3" lengthAdjust="spacingAndGlyphs" >0.73433 0.73481 0.73311 0.73411</text>
<text x="9.5" y="502" font-size="9.7" fill="#000" text-anchor="start" font-weight="normal" textLength="153.5" lengthAdjust="spacingAndGlyphs" >MACD(12,26,9) -0.002651 -0.003001</text>
<text x="9.5" y="587.6" font-size="9.7" fill="#000" text-anchor="start" font-weight="normal" textLength="67" lengthAdjust="spacingAndGlyphs" >RSI(14) 41.8004</text>
<text x="4" y="674.8" font-size="9.5" fill="#000" text-anchor="start" font-weight="normal" textLength="54" lengthAdjust="spacingAndGlyphs" >16 Nov 2020</text>
<text x="68" y="674.8" font-size="9.5" fill="#000" text-anchor="start" font-weight="normal" textLength="47" lengthAdjust="spacingAndGlyphs" >4 Dec 2020</text>
<text x="132" y="674.8" font-size="9.5" fill="#000" text-anchor="start" font-weight="normal" textLength="51.5" lengthAdjust="spacingAndGlyphs" >23 Dec 2020</text>
<text x="196" y="674.8" font-size="9.5" fill="#000" text-anchor="start" font-weight="normal" textLength="49.5" lengthAdjust="spacingAndGlyphs" >13 Jan 2021</text>
<text x="260" y="674.8" font-size="9.5" fill="#000" text-anchor="start" font-weight="normal" textLength="46.5" lengthAdjust="spacingAndGlyphs" >1 Feb 2021</text>
<text x="324" y="674.8" font-size="9.5" fill="#000" text-anchor="start" font-weight="normal" textLength="51" lengthAdjust="spacingAndGlyphs" >19 Feb 2021</text>
<text x="387.5" y="674.8" font-size="9.5" fill="#000" text-anchor="start" font-weight="normal" textLength="51.5" lengthAdjust="spacingAndGlyphs" >10 Mar 2021</text>
<text x="452" y="674.8" font-size="9.5" fill="#000" text-anchor="start" font-weight="normal" textLength="51" lengthAdjust="spacingAndGlyphs" >29 Mar 2021</text>
<text x="516" y="674.8" font-size="9.5" fill="#000" text-anchor="start" font-weight="normal" textLength="50" lengthAdjust="spacingAndGlyphs" >16 Apr 2021</text>
<text x="580" y="674.8" font-size="9.5" fill="#000" text-anchor="start" font-weight="normal" textLength="50" lengthAdjust="spacingAndGlyphs" >5 May 2021</text>
<text x="645" y="674.8" font-size="9.5" fill="#000" text-anchor="start" font-weight="normal" textLength="54" lengthAdjust="spacingAndGlyphs" >24 May 2021</text>
<text x="708.5" y="674.8" font-size="9.5" fill="#000" text-anchor="start" font-weight="normal" textLength="49.5" lengthAdjust="spacingAndGlyphs" >11 Jun 2021</text>
<text x="773" y="674.8" font-size="9.5" fill="#000" text-anchor="start" font-weight="normal" textLength="49" lengthAdjust="spacingAndGlyphs" >30 Jun 2021</text>
<text x="836.5" y="674.8" font-size="9.5" fill="#000" text-anchor="start" font-weight="normal" textLength="46.5" lengthAdjust="spacingAndGlyphs" >19 Jul 2021</text>
<text x="900.5" y="674.8" font-size="9.5" fill="#000" text-anchor="start" font-weight="normal" textLength="47.5" lengthAdjust="spacingAndGlyphs" >6 Aug 2021</text>
<text x="6.3" y="15" font-size="9.4" fill="#484848" text-anchor="end" font-weight="normal" filter="url(#gs)">15</text>
<text x="16" y="15" font-size="9.4" fill="#484848" text-anchor="start" font-weight="normal" textLength="18.3" lengthAdjust="spacingAndGlyphs" filter="url(#gs)">M30</text>
<text x="47.5" y="15" font-size="9.4" fill="#484848" text-anchor="start" font-weight="normal" textLength="11.7" lengthAdjust="spacingAndGlyphs" filter="url(#gs)">H1</text>
<text x="74.6" y="15" font-size="9.4" fill="#484848" text-anchor="start" font-weight="normal" textLength="12.4" lengthAdjust="spacingAndGlyphs" filter="url(#gs)">H4</text>
<text x="103.6" y="15" font-size="9.4" fill="#484848" text-anchor="start" font-weight="normal" textLength="11.6" lengthAdjust="spacingAndGlyphs" filter="url(#gs)">D1</text>
<text x="130.9" y="15" font-size="9.4" fill="#484848" text-anchor="start" font-weight="normal" textLength="14.4" lengthAdjust="spacingAndGlyphs" filter="url(#gs)">W1</text>
<text x="157.4" y="15" font-size="9.4" fill="#484848" text-anchor="start" font-weight="normal" textLength="14.9" lengthAdjust="spacingAndGlyphs" filter="url(#gs)">MN</text>
<text x="18" y="700" font-size="12" fill="#606060" text-anchor="start" font-weight="normal" textLength="68" lengthAdjust="spacingAndGlyphs" >EURUSD,H4</text>
<text x="109.8" y="700" font-size="12" fill="#000" text-anchor="start" font-weight="normal" textLength="80.5" lengthAdjust="spacingAndGlyphs" >AUDUSD,Daily</text>
<text x="212.2" y="700" font-size="12" fill="#606060" text-anchor="start" font-weight="normal" textLength="66.6" lengthAdjust="spacingAndGlyphs" >USDCHF,H4</text>
<text x="301" y="700" font-size="12" fill="#606060" text-anchor="start" font-weight="normal" textLength="81" lengthAdjust="spacingAndGlyphs" >USDCAD,Daily</text>
<text x="404" y="700" font-size="12" fill="#606060" text-anchor="start" font-weight="normal" textLength="83" lengthAdjust="spacingAndGlyphs" >USDCNH,Daily</text>
<text x="510" y="700" font-size="12" fill="#606060" text-anchor="start" font-weight="normal" textLength="52" lengthAdjust="spacingAndGlyphs" >UKOil,H1</text>
<text x="584.5" y="700" font-size="12" fill="#606060" text-anchor="start" font-weight="normal" textLength="46" lengthAdjust="spacingAndGlyphs" >DJ30,H1</text>
<text x="654" y="700" font-size="12" fill="#606060" text-anchor="start" font-weight="normal" textLength="52" lengthAdjust="spacingAndGlyphs" >USDX,H1</text>
<text x="729" y="700" font-size="12" fill="#606060" text-anchor="start" font-weight="normal" textLength="68.8" lengthAdjust="spacingAndGlyphs" >XAUUSD,H1</text>
<text x="822" y="700" font-size="12" fill="#606060" text-anchor="start" font-weight="normal" textLength="68" lengthAdjust="spacingAndGlyphs" >GBPUSD,H1</text>
</g>
</svg>
</body></html>
